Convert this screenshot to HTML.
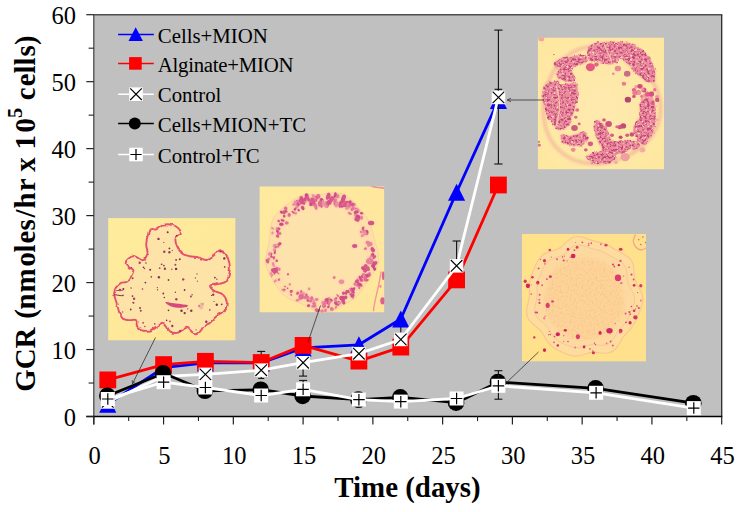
<!DOCTYPE html>
<html><head><meta charset="utf-8"><title>GCR chart</title>
<style>
html,body{margin:0;padding:0;background:#fff;width:737px;height:512px;overflow:hidden}
svg text{font-family:"Liberation Serif",serif;fill:#000}
.tk{font-size:24.5px}
.ax{font-size:28.9px;font-weight:bold}
.lg{font-size:20.8px}
</style></head><body>
<svg width="737" height="512" viewBox="0 0 737 512" style="display:block;position:absolute;left:0;top:0">
<defs><filter id="b1" x="-10%" y="-10%" width="120%" height="120%"><feGaussianBlur stdDeviation="0.55"/></filter>
<filter id="b2" x="-10%" y="-10%" width="120%" height="120%"><feGaussianBlur stdDeviation="1.2"/></filter>
<filter id="b3" x="-10%" y="-10%" width="120%" height="120%"><feGaussianBlur stdDeviation="2.5"/></filter>
<filter id="b0" x="-10%" y="-10%" width="120%" height="120%"><feGaussianBlur stdDeviation="0.35"/></filter>
<clipPath id="cTR"><rect x="0" y="0" width="126.2" height="131.9"/></clipPath>
<radialGradient id="gTR" cx="0.5" cy="0.52" r="0.62"><stop offset="0" stop-color="#ffe9ae"/><stop offset="0.5" stop-color="#fee8a8"/><stop offset="1" stop-color="#fee8a0"/></radialGradient>
<filter id="rough" x="-5%" y="-5%" width="110%" height="110%" color-interpolation-filters="sRGB"><feTurbulence type="fractalNoise" baseFrequency="0.18" numOctaves="2" seed="3" result="n"/><feDisplacementMap in="SourceGraphic" in2="n" scale="5" xChannelSelector="R" yChannelSelector="G"/><feGaussianBlur stdDeviation="0.5" result="shape"/><feTurbulence type="fractalNoise" baseFrequency="0.42" numOctaves="2" seed="11" result="t"/><feColorMatrix in="t" type="matrix" values="0 0 0 0 0.75  0 0 0 0 0.27  0 0 0 0 0.47  5 0 0 0 -2.35" result="d"/><feComposite in="d" in2="shape" operator="in" result="dd"/><feColorMatrix in="t" type="matrix" values="0 0 0 0 0.99  0 0 0 0 0.82  0 0 0 0 0.72  0 -6 0 0 2.35" result="l"/><feComposite in="l" in2="shape" operator="in" result="ll"/><feMerge><feMergeNode in="shape"/><feMergeNode in="dd"/><feMergeNode in="ll"/></feMerge><feGaussianBlur stdDeviation="0.3"/></filter>
<filter id="bump" x="-5%" y="-5%" width="110%" height="110%"><feTurbulence type="fractalNoise" baseFrequency="0.13" numOctaves="2" seed="8" result="n"/><feDisplacementMap in="SourceGraphic" in2="n" scale="3.2" xChannelSelector="R" yChannelSelector="G"/><feGaussianBlur stdDeviation="0.4"/></filter>
<clipPath id="cBL"><rect x="0" y="0" width="127.5" height="122.5"/></clipPath>
<linearGradient id="gBL" x1="0" y1="0" x2="1" y2="1"><stop offset="0" stop-color="#feec9c"/><stop offset="1" stop-color="#ffe496"/></linearGradient>
<clipPath id="cMD"><rect x="0" y="0" width="125.0" height="126.2"/></clipPath>
<linearGradient id="gMD" x1="0" y1="0" x2="1" y2="1"><stop offset="0" stop-color="#feea9e"/><stop offset="1" stop-color="#ffe69c"/></linearGradient>
<clipPath id="cBR"><rect x="0" y="0" width="124.1" height="127.7"/></clipPath>
<linearGradient id="gBR" x1="0" y1="0" x2="1" y2="1"><stop offset="0" stop-color="#ffe28a"/><stop offset="1" stop-color="#ffe08c"/></linearGradient>
<filter id="grain" x="0" y="0" width="100%" height="100%" color-interpolation-filters="sRGB"><feGaussianBlur stdDeviation="1.5" result="shape"/><feTurbulence type="fractalNoise" baseFrequency="0.5" numOctaves="2" seed="4" result="t"/><feColorMatrix in="t" type="matrix" values="0 0 0 0 0.97  0 0 0 0 0.74  0 0 0 0 0.55  2.0 0 0 0 -0.9" result="d"/><feComposite in="d" in2="shape" operator="in" result="dd"/><feMerge><feMergeNode in="shape"/><feMergeNode in="dd"/></feMerge></filter></defs>
<rect x="0" y="0" width="737" height="512" fill="#fff"/>
<rect x="93.8" y="14.7" width="627.9000000000001" height="401.8" fill="#c0c0c0"/>
<line x1="93.39999999999999" y1="14.7" x2="722.3000000000001" y2="14.7" stroke="#4d4d4d" stroke-width="1.4"/>
<line x1="721.7" y1="14.7" x2="721.7" y2="416.5" stroke="#2a2a2a" stroke-width="1.3"/>
<line x1="93.8" y1="14.7" x2="93.8" y2="424.5" stroke="#555" stroke-width="1.4"/>
<line x1="86.3" y1="416.5" x2="722.3000000000001" y2="416.5" stroke="#000" stroke-width="1.3"/>
<line x1="86.3" y1="416.50" x2="93.8" y2="416.50" stroke="#222" stroke-width="1.2"/>
<text x="76" y="426.20" text-anchor="end" class="tk">0</text>
<line x1="88.6" y1="383.02" x2="93.8" y2="383.02" stroke="#222" stroke-width="1.1"/>
<line x1="86.3" y1="349.53" x2="93.8" y2="349.53" stroke="#222" stroke-width="1.2"/>
<text x="76" y="359.23" text-anchor="end" class="tk">10</text>
<line x1="88.6" y1="316.05" x2="93.8" y2="316.05" stroke="#222" stroke-width="1.1"/>
<line x1="86.3" y1="282.57" x2="93.8" y2="282.57" stroke="#222" stroke-width="1.2"/>
<text x="76" y="292.27" text-anchor="end" class="tk">20</text>
<line x1="88.6" y1="249.08" x2="93.8" y2="249.08" stroke="#222" stroke-width="1.1"/>
<line x1="86.3" y1="215.60" x2="93.8" y2="215.60" stroke="#222" stroke-width="1.2"/>
<text x="76" y="225.30" text-anchor="end" class="tk">30</text>
<line x1="88.6" y1="182.12" x2="93.8" y2="182.12" stroke="#222" stroke-width="1.1"/>
<line x1="86.3" y1="148.63" x2="93.8" y2="148.63" stroke="#222" stroke-width="1.2"/>
<text x="76" y="158.33" text-anchor="end" class="tk">40</text>
<line x1="88.6" y1="115.15" x2="93.8" y2="115.15" stroke="#222" stroke-width="1.1"/>
<line x1="86.3" y1="81.67" x2="93.8" y2="81.67" stroke="#222" stroke-width="1.2"/>
<text x="76" y="91.37" text-anchor="end" class="tk">50</text>
<line x1="88.6" y1="48.18" x2="93.8" y2="48.18" stroke="#222" stroke-width="1.1"/>
<line x1="86.3" y1="14.70" x2="93.8" y2="14.70" stroke="#222" stroke-width="1.2"/>
<text x="76" y="24.40" text-anchor="end" class="tk">60</text>
<line x1="93.80" y1="416.5" x2="93.80" y2="424.5" stroke="#222" stroke-width="1.2"/>
<text x="94.60" y="464.3" text-anchor="middle" class="tk">0</text>
<line x1="128.68" y1="416.5" x2="128.68" y2="421.1" stroke="#222" stroke-width="1.1"/>
<line x1="163.57" y1="416.5" x2="163.57" y2="424.5" stroke="#222" stroke-width="1.2"/>
<text x="164.37" y="464.3" text-anchor="middle" class="tk">5</text>
<line x1="198.45" y1="416.5" x2="198.45" y2="421.1" stroke="#222" stroke-width="1.1"/>
<line x1="233.33" y1="416.5" x2="233.33" y2="424.5" stroke="#222" stroke-width="1.2"/>
<text x="234.13" y="464.3" text-anchor="middle" class="tk">10</text>
<line x1="268.22" y1="416.5" x2="268.22" y2="421.1" stroke="#222" stroke-width="1.1"/>
<line x1="303.10" y1="416.5" x2="303.10" y2="424.5" stroke="#222" stroke-width="1.2"/>
<text x="303.90" y="464.3" text-anchor="middle" class="tk">15</text>
<line x1="337.98" y1="416.5" x2="337.98" y2="421.1" stroke="#222" stroke-width="1.1"/>
<line x1="372.87" y1="416.5" x2="372.87" y2="424.5" stroke="#222" stroke-width="1.2"/>
<text x="373.67" y="464.3" text-anchor="middle" class="tk">20</text>
<line x1="407.75" y1="416.5" x2="407.75" y2="421.1" stroke="#222" stroke-width="1.1"/>
<line x1="442.63" y1="416.5" x2="442.63" y2="424.5" stroke="#222" stroke-width="1.2"/>
<text x="443.43" y="464.3" text-anchor="middle" class="tk">25</text>
<line x1="477.52" y1="416.5" x2="477.52" y2="421.1" stroke="#222" stroke-width="1.1"/>
<line x1="512.40" y1="416.5" x2="512.40" y2="424.5" stroke="#222" stroke-width="1.2"/>
<text x="513.20" y="464.3" text-anchor="middle" class="tk">30</text>
<line x1="547.28" y1="416.5" x2="547.28" y2="421.1" stroke="#222" stroke-width="1.1"/>
<line x1="582.17" y1="416.5" x2="582.17" y2="424.5" stroke="#222" stroke-width="1.2"/>
<text x="582.97" y="464.3" text-anchor="middle" class="tk">35</text>
<line x1="617.05" y1="416.5" x2="617.05" y2="421.1" stroke="#222" stroke-width="1.1"/>
<line x1="651.93" y1="416.5" x2="651.93" y2="424.5" stroke="#222" stroke-width="1.2"/>
<text x="652.73" y="464.3" text-anchor="middle" class="tk">40</text>
<line x1="686.82" y1="416.5" x2="686.82" y2="421.1" stroke="#222" stroke-width="1.1"/>
<line x1="721.70" y1="416.5" x2="721.70" y2="424.5" stroke="#222" stroke-width="1.2"/>
<text x="722.50" y="464.3" text-anchor="middle" class="tk">45</text>
<text x="407.5" y="497" text-anchor="middle" class="ax">Time (days)</text>
<text transform="translate(35.4,391.8) rotate(-90) scale(1,1.04)" class="ax" style="word-spacing:4.1px"><tspan dx="0 0 0 0 -2.4 -0.4 0.8 2 -0.5 0.9 0.3 1.8 0.8 1.2 0 -4 0 -3.5 2.5">GCR (nmoles/hr x 10</tspan><tspan dy="-13.2" font-size="20.5">5</tspan><tspan dy="13.2" dx="0 -3.7 1.0 0 0 1 0.3"> cells)</tspan></text>
<g transform="translate(537.8,37.5)" clip-path="url(#cTR)">
<rect width="126.2" height="131.9" fill="url(#gTR)"/>
<path d="M122.7 68.5C122.8 71.6 122.7 74.9 122.2 78.0C121.8 81.1 121.0 84.2 119.9 87.2C118.8 90.1 117.4 93.0 115.8 95.7C114.2 98.3 112.3 100.9 110.2 103.2C108.2 105.5 105.9 107.6 103.6 109.6C101.2 111.5 98.7 113.2 96.1 114.8C93.6 116.4 90.9 117.8 88.2 119.0C85.5 120.2 82.8 121.3 80.0 122.2C77.2 123.2 74.3 124.0 71.4 124.6C68.5 125.2 65.5 125.7 62.5 125.9C59.5 126.2 56.4 126.3 53.4 126.1C50.3 125.9 47.2 125.5 44.2 124.8C41.2 124.1 38.1 123.2 35.3 122.0C32.4 120.7 29.6 119.2 27.0 117.4C24.4 115.6 21.9 113.5 19.8 111.2C17.6 109.0 15.6 106.4 13.9 103.8C12.2 101.2 10.8 98.3 9.7 95.4C8.5 92.5 7.6 89.5 7.0 86.5C6.3 83.6 5.9 80.5 5.7 77.5C5.5 74.5 5.5 71.5 5.7 68.5C5.8 65.5 6.2 62.6 6.7 59.7C7.2 56.7 7.8 53.9 8.6 51.0C9.4 48.1 10.4 45.3 11.6 42.5C12.7 39.8 14.0 37.0 15.6 34.4C17.1 31.8 18.9 29.2 20.8 26.8C22.8 24.5 25.0 22.2 27.4 20.1C29.7 18.1 32.4 16.3 35.1 14.7C37.8 13.2 40.8 11.9 43.8 11.0C46.8 10.0 50.0 9.4 53.1 9.0C56.2 8.7 59.4 8.7 62.5 8.9C65.6 9.2 68.7 9.8 71.7 10.5C74.7 11.3 77.6 12.4 80.4 13.6C83.1 14.8 85.8 16.2 88.4 17.7C90.9 19.2 93.4 20.9 95.7 22.7C98.1 24.5 100.3 26.5 102.5 28.5C104.6 30.6 106.7 32.7 108.6 35.0C110.5 37.3 112.3 39.7 113.9 42.3C115.5 44.9 117.0 47.6 118.2 50.4C119.5 53.2 120.5 56.2 121.3 59.2C122.0 62.2 122.5 65.4 122.7 68.5Z" fill="none" stroke="#f0a59c" stroke-width="4" opacity="0.5" filter="url(#b2)"/>
<g filter="url(#b2)" opacity="0.55"><path d="M16.1 24.4C16.6 23.3 17.3 22.4 19.4 21.7C21.6 21.1 25.6 21.0 28.7 20.4C31.8 19.9 34.9 18.9 38.0 18.4C41.1 18.0 45.5 16.9 47.3 17.8C49.2 18.6 50.0 22.2 49.3 23.7C48.7 25.3 45.5 26.2 43.4 27.1C41.3 27.9 38.3 28.2 36.7 29.0C35.2 29.9 34.2 30.8 34.1 32.4C33.9 33.9 35.6 36.6 36.0 38.3C36.5 40.1 37.7 42.0 36.7 43.0C35.7 44.0 32.4 44.4 30.1 44.3C27.7 44.2 24.8 43.3 22.8 42.3C20.8 41.3 18.6 40.0 18.1 38.3C17.7 36.7 20.3 34.0 20.1 32.4C19.9 30.7 17.5 29.7 16.8 28.4C16.1 27.1 15.7 25.5 16.1 24.4Z" fill="#f4a6a0"/><path d="M16.8 43.0C17.5 42.4 19.3 41.9 20.1 42.3C20.9 42.8 21.8 44.8 21.4 45.6C21.1 46.5 19.0 47.4 18.1 47.4C17.2 47.4 16.3 46.4 16.1 45.6C15.9 44.9 16.1 43.5 16.8 43.0Z" fill="#f4a6a0"/><path d="M6.4 47.0C7.6 44.9 9.8 44.6 11.5 44.3C13.2 44.0 14.7 44.4 16.8 45.0C18.9 45.6 21.7 47.7 24.1 47.9C26.5 48.1 29.1 46.5 31.4 46.0C33.7 45.6 36.6 43.6 38.0 45.0C39.5 46.4 39.9 51.4 40.0 54.3C40.2 57.2 39.6 59.5 39.1 62.2C38.6 65.0 37.8 67.9 37.0 70.9C36.2 73.9 35.5 77.1 34.3 80.2C33.1 83.3 31.6 87.4 29.8 89.5C28.0 91.5 25.4 92.3 23.4 92.5C21.5 92.7 19.7 92.1 18.1 90.8C16.5 89.5 15.3 86.8 13.9 84.8C12.4 82.8 10.8 81.7 9.5 78.8C8.2 76.0 6.7 71.2 5.9 67.6C5.1 63.9 4.5 60.4 4.6 56.9C4.7 53.5 5.3 49.1 6.4 47.0Z" fill="#f4a6a0"/><path d="M49.3 13.1C49.8 10.7 52.1 9.1 54.0 7.8C55.9 6.5 58.6 5.7 60.6 5.1C62.7 4.6 63.3 4.6 66.2 4.5C69.1 4.4 75.7 2.8 78.1 4.5C80.6 6.1 80.6 11.2 80.8 14.4C81.0 17.6 81.0 21.6 79.5 23.7C77.9 25.8 74.0 26.8 71.5 27.1C69.0 27.3 66.9 25.5 64.6 25.1C62.3 24.6 60.2 24.8 58.0 24.4C55.7 24.0 52.8 24.3 51.3 22.4C49.9 20.5 48.9 15.5 49.3 13.1Z" fill="#f4a6a0"/><path d="M75.5 7.8C76.9 6.6 81.2 4.5 84.8 4.5C88.3 4.5 93.0 5.9 96.7 7.8C100.5 9.7 104.3 12.4 107.4 15.8C110.5 19.1 113.6 24.0 115.3 27.7C117.1 31.5 117.6 35.7 118.0 38.3C118.3 41.0 118.9 42.7 117.3 43.7C115.8 44.6 111.7 45.4 108.7 44.3C105.7 43.2 102.7 40.0 99.4 37.0C96.1 34.0 91.9 29.5 88.8 26.4C85.7 23.3 82.9 20.9 80.8 18.4C78.7 16.0 77.0 13.6 76.1 11.8C75.3 10.0 74.0 9.0 75.5 7.8Z" fill="#f4a6a0"/><path d="M23.4 97.0C24.8 95.9 29.6 98.8 32.7 98.4C35.8 97.9 39.3 94.6 42.0 94.4C44.8 94.2 48.0 95.5 49.3 97.0C50.7 98.6 51.0 101.9 50.0 103.7C49.0 105.5 46.2 107.0 43.4 107.7C40.5 108.3 35.8 108.1 32.7 107.7C29.6 107.2 26.3 106.8 24.8 105.0C23.2 103.2 22.1 98.2 23.4 97.0Z" fill="#f4a6a0"/><path d="M57.3 83.8C58.1 81.7 60.5 82.4 61.9 83.1C63.4 83.8 64.8 86.1 66.2 87.7C67.6 89.4 68.9 90.4 70.2 93.1C71.5 95.7 71.9 101.9 74.2 103.7C76.4 105.5 80.8 103.9 83.5 103.7C86.1 103.5 87.4 102.4 90.1 102.4C92.8 102.4 97.5 102.6 99.4 103.7C101.3 104.8 101.8 107.4 101.4 109.0C100.9 110.5 98.6 112.5 96.7 113.0C94.9 113.4 91.9 111.2 90.1 111.7C88.3 112.1 87.9 114.8 86.1 115.6C84.3 116.5 81.0 115.9 79.5 117.0C77.9 118.1 78.1 120.9 76.8 122.3C75.5 123.6 73.3 124.7 71.5 124.9C69.7 125.2 67.6 126.0 66.2 123.6C64.8 121.2 64.3 113.6 63.3 110.3C62.2 107.0 60.9 106.1 60.0 103.7C59.0 101.2 57.7 99.0 57.3 95.7C56.9 92.4 56.5 85.9 57.3 83.8Z" fill="#f4a6a0"/><path d="M48.7 119.6C49.3 118.3 52.4 116.5 55.3 115.6C58.2 114.8 63.3 114.2 66.2 114.3C69.1 114.4 71.4 115.0 72.6 116.3C73.7 117.6 74.3 120.6 73.2 122.3C72.2 123.9 69.0 125.6 66.2 126.3C63.4 126.9 59.1 126.7 56.6 126.3C54.2 125.8 52.6 124.7 51.3 123.6C50.0 122.5 48.0 120.9 48.7 119.6Z" fill="#f4a6a0"/><path d="M102.0 66.5C102.9 63.6 105.1 61.9 107.4 61.2C109.6 60.5 113.6 60.3 115.3 62.5C117.1 64.7 117.6 70.5 118.0 74.5C118.3 78.5 118.2 82.2 117.3 86.4C116.4 90.6 114.5 96.4 112.7 99.7C110.8 103.0 108.0 105.7 106.0 106.3C104.0 107.0 102.3 105.5 100.7 103.7C99.2 101.9 97.3 98.6 96.7 95.7C96.2 92.8 96.5 89.3 97.4 86.4C98.3 83.5 101.3 81.8 102.0 78.5C102.8 75.1 101.2 69.4 102.0 66.5Z" fill="#f4a6a0"/></g>
<g filter="url(#rough)"><path d="M16.1 24.4C16.6 23.3 17.3 22.4 19.4 21.7C21.6 21.1 25.6 21.0 28.7 20.4C31.8 19.9 34.9 18.9 38.0 18.4C41.1 18.0 45.5 16.9 47.3 17.8C49.2 18.6 50.0 22.2 49.3 23.7C48.7 25.3 45.5 26.2 43.4 27.1C41.3 27.9 38.3 28.2 36.7 29.0C35.2 29.9 34.2 30.8 34.1 32.4C33.9 33.9 35.6 36.6 36.0 38.3C36.5 40.1 37.7 42.0 36.7 43.0C35.7 44.0 32.4 44.4 30.1 44.3C27.7 44.2 24.8 43.3 22.8 42.3C20.8 41.3 18.6 40.0 18.1 38.3C17.7 36.7 20.3 34.0 20.1 32.4C19.9 30.7 17.5 29.7 16.8 28.4C16.1 27.1 15.7 25.5 16.1 24.4Z" fill="#ec8e9e"/><path d="M16.8 43.0C17.5 42.4 19.3 41.9 20.1 42.3C20.9 42.8 21.8 44.8 21.4 45.6C21.1 46.5 19.0 47.4 18.1 47.4C17.2 47.4 16.3 46.4 16.1 45.6C15.9 44.9 16.1 43.5 16.8 43.0Z" fill="#ec8e9e"/><path d="M6.4 47.0C7.6 44.9 9.8 44.6 11.5 44.3C13.2 44.0 14.7 44.4 16.8 45.0C18.9 45.6 21.7 47.7 24.1 47.9C26.5 48.1 29.1 46.5 31.4 46.0C33.7 45.6 36.6 43.6 38.0 45.0C39.5 46.4 39.9 51.4 40.0 54.3C40.2 57.2 39.6 59.5 39.1 62.2C38.6 65.0 37.8 67.9 37.0 70.9C36.2 73.9 35.5 77.1 34.3 80.2C33.1 83.3 31.6 87.4 29.8 89.5C28.0 91.5 25.4 92.3 23.4 92.5C21.5 92.7 19.7 92.1 18.1 90.8C16.5 89.5 15.3 86.8 13.9 84.8C12.4 82.8 10.8 81.7 9.5 78.8C8.2 76.0 6.7 71.2 5.9 67.6C5.1 63.9 4.5 60.4 4.6 56.9C4.7 53.5 5.3 49.1 6.4 47.0Z" fill="#ec8e9e"/><path d="M49.3 13.1C49.8 10.7 52.1 9.1 54.0 7.8C55.9 6.5 58.6 5.7 60.6 5.1C62.7 4.6 63.3 4.6 66.2 4.5C69.1 4.4 75.7 2.8 78.1 4.5C80.6 6.1 80.6 11.2 80.8 14.4C81.0 17.6 81.0 21.6 79.5 23.7C77.9 25.8 74.0 26.8 71.5 27.1C69.0 27.3 66.9 25.5 64.6 25.1C62.3 24.6 60.2 24.8 58.0 24.4C55.7 24.0 52.8 24.3 51.3 22.4C49.9 20.5 48.9 15.5 49.3 13.1Z" fill="#ec8e9e"/><path d="M75.5 7.8C76.9 6.6 81.2 4.5 84.8 4.5C88.3 4.5 93.0 5.9 96.7 7.8C100.5 9.7 104.3 12.4 107.4 15.8C110.5 19.1 113.6 24.0 115.3 27.7C117.1 31.5 117.6 35.7 118.0 38.3C118.3 41.0 118.9 42.7 117.3 43.7C115.8 44.6 111.7 45.4 108.7 44.3C105.7 43.2 102.7 40.0 99.4 37.0C96.1 34.0 91.9 29.5 88.8 26.4C85.7 23.3 82.9 20.9 80.8 18.4C78.7 16.0 77.0 13.6 76.1 11.8C75.3 10.0 74.0 9.0 75.5 7.8Z" fill="#ec8e9e"/><path d="M23.4 97.0C24.8 95.9 29.6 98.8 32.7 98.4C35.8 97.9 39.3 94.6 42.0 94.4C44.8 94.2 48.0 95.5 49.3 97.0C50.7 98.6 51.0 101.9 50.0 103.7C49.0 105.5 46.2 107.0 43.4 107.7C40.5 108.3 35.8 108.1 32.7 107.7C29.6 107.2 26.3 106.8 24.8 105.0C23.2 103.2 22.1 98.2 23.4 97.0Z" fill="#ec8e9e"/><path d="M57.3 83.8C58.1 81.7 60.5 82.4 61.9 83.1C63.4 83.8 64.8 86.1 66.2 87.7C67.6 89.4 68.9 90.4 70.2 93.1C71.5 95.7 71.9 101.9 74.2 103.7C76.4 105.5 80.8 103.9 83.5 103.7C86.1 103.5 87.4 102.4 90.1 102.4C92.8 102.4 97.5 102.6 99.4 103.7C101.3 104.8 101.8 107.4 101.4 109.0C100.9 110.5 98.6 112.5 96.7 113.0C94.9 113.4 91.9 111.2 90.1 111.7C88.3 112.1 87.9 114.8 86.1 115.6C84.3 116.5 81.0 115.9 79.5 117.0C77.9 118.1 78.1 120.9 76.8 122.3C75.5 123.6 73.3 124.7 71.5 124.9C69.7 125.2 67.6 126.0 66.2 123.6C64.8 121.2 64.3 113.6 63.3 110.3C62.2 107.0 60.9 106.1 60.0 103.7C59.0 101.2 57.7 99.0 57.3 95.7C56.9 92.4 56.5 85.9 57.3 83.8Z" fill="#ec8e9e"/><path d="M48.7 119.6C49.3 118.3 52.4 116.5 55.3 115.6C58.2 114.8 63.3 114.2 66.2 114.3C69.1 114.4 71.4 115.0 72.6 116.3C73.7 117.6 74.3 120.6 73.2 122.3C72.2 123.9 69.0 125.6 66.2 126.3C63.4 126.9 59.1 126.7 56.6 126.3C54.2 125.8 52.6 124.7 51.3 123.6C50.0 122.5 48.0 120.9 48.7 119.6Z" fill="#ec8e9e"/><path d="M102.0 66.5C102.9 63.6 105.1 61.9 107.4 61.2C109.6 60.5 113.6 60.3 115.3 62.5C117.1 64.7 117.6 70.5 118.0 74.5C118.3 78.5 118.2 82.2 117.3 86.4C116.4 90.6 114.5 96.4 112.7 99.7C110.8 103.0 108.0 105.7 106.0 106.3C104.0 107.0 102.3 105.5 100.7 103.7C99.2 101.9 97.3 98.6 96.7 95.7C96.2 92.8 96.5 89.3 97.4 86.4C98.3 83.5 101.3 81.8 102.0 78.5C102.8 75.1 101.2 69.4 102.0 66.5Z" fill="#ec8e9e"/></g>
<path d="M18.1 47.9C18.5 49.4 19.9 53.7 20.5 56.9C21.1 60.2 21.8 64.0 21.8 67.6C21.9 71.1 21.4 74.6 20.8 78.2C20.2 81.7 18.6 87.0 18.1 88.8" fill="none" stroke="#f9d2ae" stroke-width="1.3" opacity="0.85" filter="url(#b0)"/>
<path d="M66.2 5.8C66.7 7.0 68.2 10.7 69.2 13.1C70.3 15.5 71.7 18.1 72.6 20.4C73.5 22.7 74.2 25.9 74.6 27.1" fill="none" stroke="#f9d2ae" stroke-width="1.2" opacity="0.8" filter="url(#b0)"/>
<g filter="url(#b1)"><circle cx="102.7" cy="48.8" r="2.35" fill="#e8648a" opacity="0.95"/><circle cx="96.4" cy="55.5" r="1.81" fill="#c8457c" opacity="0.83"/><circle cx="119.2" cy="59.5" r="2.02" fill="#ee7e98" opacity="0.71"/><circle cx="116.9" cy="52.3" r="1.69" fill="#e8648a" opacity="0.87"/><circle cx="109.0" cy="62.2" r="1.63" fill="#c8457c" opacity="0.89"/><circle cx="104.0" cy="58.8" r="1.58" fill="#e8648a" opacity="0.89"/><circle cx="107.3" cy="58.4" r="2.51" fill="#f293a3" opacity="0.88"/><circle cx="106.1" cy="52.5" r="2.53" fill="#d04a80" opacity="0.93"/><circle cx="96.2" cy="52.6" r="2.14" fill="#e25583" opacity="0.92"/><circle cx="97.2" cy="55.5" r="2.48" fill="#ee7e98" opacity="0.98"/><circle cx="115.0" cy="65.6" r="1.94" fill="#e25583" opacity="0.88"/><circle cx="109.5" cy="56.5" r="2.59" fill="#e25583" opacity="0.84"/><circle cx="112.7" cy="61.3" r="2.79" fill="#f293a3" opacity="0.79"/><circle cx="104.3" cy="61.9" r="1.53" fill="#f293a3" opacity="0.81"/><circle cx="110.3" cy="57.4" r="1.78" fill="#e25583" opacity="0.74"/><circle cx="100.6" cy="54.8" r="2.63" fill="#e8648a" opacity="0.75"/><circle cx="104.7" cy="52.0" r="1.68" fill="#f293a3" opacity="0.96"/><circle cx="101.5" cy="55.5" r="1.97" fill="#f293a3" opacity="0.99"/><circle cx="98.1" cy="49.4" r="1.80" fill="#ee7e98" opacity="0.70"/><circle cx="101.6" cy="48.7" r="2.19" fill="#c8457c" opacity="0.87"/><circle cx="119.4" cy="62.4" r="2.17" fill="#c8457c" opacity="0.90"/><circle cx="113.7" cy="56.5" r="2.63" fill="#d04a80" opacity="0.94"/></g>
<g filter="url(#b1)"><ellipse cx="52.6" cy="29.7" rx="4.52" ry="4.06" fill="#e95982"/><ellipse cx="58.6" cy="27.1" rx="2.39" ry="2.15" fill="#e66686"/><ellipse cx="80.1" cy="31.0" rx="3.19" ry="2.87" fill="#e78b96"/><ellipse cx="89.4" cy="36.3" rx="3.32" ry="2.99" fill="#ca6c88"/><ellipse cx="86.1" cy="46.3" rx="2.26" ry="2.03" fill="#ea7c8d"/><ellipse cx="75.5" cy="36.3" rx="1.33" ry="1.20" fill="#ea8c96"/><ellipse cx="90.1" cy="62.2" rx="3.19" ry="2.87" fill="#b24672"/><ellipse cx="96.1" cy="58.9" rx="1.86" ry="1.67" fill="#da567e"/><ellipse cx="36.7" cy="90.4" rx="3.32" ry="2.99" fill="#cc5c7d"/><ellipse cx="41.4" cy="86.4" rx="1.46" ry="1.31" fill="#da6c86"/><ellipse cx="38.0" cy="79.8" rx="1.59" ry="1.43" fill="#da6c86"/><ellipse cx="39.4" cy="72.5" rx="1.99" ry="1.79" fill="#e2718a"/><ellipse cx="52.6" cy="106.3" rx="2.66" ry="2.39" fill="#d26183"/><ellipse cx="48.0" cy="112.3" rx="1.86" ry="1.67" fill="#d26183"/><ellipse cx="35.4" cy="112.3" rx="2.39" ry="2.15" fill="#ea8b96"/><ellipse cx="1.5" cy="107.7" rx="1.59" ry="1.43" fill="#df768e"/><ellipse cx="1.1" cy="104.3" rx="1.20" ry="1.08" fill="#df768e"/><ellipse cx="70.8" cy="86.4" rx="3.32" ry="2.99" fill="#cc537b"/><ellipse cx="85.4" cy="88.4" rx="2.92" ry="2.63" fill="#c24c77"/><ellipse cx="82.1" cy="89.7" rx="2.39" ry="2.15" fill="#cc537b"/><ellipse cx="79.2" cy="89.3" rx="1.73" ry="1.55" fill="#da6c86"/><ellipse cx="74.2" cy="97.7" rx="1.99" ry="1.79" fill="#d26183"/><ellipse cx="82.8" cy="99.7" rx="1.99" ry="1.79" fill="#c24c77"/><ellipse cx="89.4" cy="97.7" rx="1.99" ry="1.79" fill="#d26183"/><ellipse cx="94.1" cy="97.0" rx="2.39" ry="2.15" fill="#cc537b"/><ellipse cx="66.2" cy="82.4" rx="1.86" ry="1.67" fill="#d26183"/><ellipse cx="63.5" cy="89.1" rx="2.12" ry="1.91" fill="#cc537b"/><ellipse cx="104.7" cy="112.3" rx="2.92" ry="2.63" fill="#f8aba3"/><ellipse cx="119.3" cy="82.4" rx="1.46" ry="1.31" fill="#faaca6"/><ellipse cx="116.0" cy="95.1" rx="1.33" ry="1.20" fill="#f8aba3"/><ellipse cx="87.4" cy="119.6" rx="4.65" ry="4.18" fill="#efa1a1"/><ellipse cx="78.1" cy="124.9" rx="1.86" ry="1.67" fill="#f2aca6"/><ellipse cx="16.1" cy="17.1" rx="0.80" ry="0.72" fill="#94764e"/><ellipse cx="3.5" cy="1.2" rx="2.92" ry="2.63" fill="#f8a49e"/></g>
</g>
<g transform="translate(108.1,218.1)" clip-path="url(#cBL)">
<rect width="127.5" height="122.5" fill="url(#gBL)"/>
<path d="M39.4 18.9C40.0 16.4 40.4 12.5 41.9 11.2C43.4 10.0 46.0 12.0 48.3 11.2C50.7 10.5 53.4 7.4 56.0 6.6C58.6 5.9 61.3 6.1 63.7 6.6C66.0 7.2 68.6 8.6 70.1 10.0C71.6 11.4 73.1 13.4 72.6 15.1C72.2 16.8 68.2 18.1 67.5 20.2C66.9 22.3 67.7 25.3 68.8 27.9C69.9 30.4 71.8 33.8 73.9 35.5C76.0 37.2 78.8 37.5 81.6 38.1C84.3 38.7 87.8 38.7 90.5 39.4C93.3 40.0 95.9 42.1 98.2 41.9C100.5 41.7 102.3 39.6 104.6 38.1C106.9 36.6 110.1 33.4 112.3 33.0C114.4 32.6 115.9 33.6 117.4 35.5C118.9 37.5 120.6 41.3 121.2 44.5C121.9 47.7 121.9 51.5 121.2 54.7C120.6 57.9 119.5 61.8 117.4 63.7C115.3 65.6 111.0 65.6 108.4 66.2C105.9 66.9 102.5 66.4 102.0 67.5C101.6 68.6 103.7 71.1 105.9 72.6C108.0 74.1 112.7 74.5 114.8 76.5C117.0 78.4 118.4 81.4 118.7 84.1C118.9 86.9 117.8 90.7 116.1 93.1C114.4 95.4 110.8 96.3 108.4 98.2C106.1 100.1 104.2 102.9 102.0 104.6C99.9 106.3 97.3 106.9 95.6 108.4C93.9 109.9 93.5 112.5 91.8 113.5C90.1 114.6 87.5 115.5 85.4 114.8C83.3 114.2 80.9 110.1 79.0 109.7C77.1 109.3 75.6 111.4 73.9 112.3C72.2 113.1 70.7 114.6 68.8 114.8C66.9 115.0 64.1 114.6 62.4 113.5C60.7 112.5 59.8 109.9 58.6 108.4C57.3 106.9 56.4 104.6 54.7 104.6C53.0 104.6 50.5 107.2 48.3 108.4C46.2 109.7 44.3 111.6 41.9 112.3C39.6 112.9 36.4 112.9 34.3 112.3C32.1 111.6 30.2 110.1 29.1 108.4C28.1 106.7 29.1 103.1 27.9 102.0C26.6 101.0 23.6 102.3 21.5 102.0C19.3 101.8 16.8 102.0 15.1 100.8C13.4 99.5 12.3 96.9 11.2 94.4C10.2 91.8 9.5 88.4 8.7 85.4C7.8 82.4 6.3 79.0 6.1 76.5C5.9 73.9 6.3 72.0 7.4 70.1C8.5 68.2 10.6 66.0 12.5 65.0C14.4 63.9 17.2 64.7 18.9 63.7C20.6 62.6 21.7 60.5 22.8 58.6C23.8 56.6 25.5 53.7 25.3 52.2C25.1 50.7 22.8 50.7 21.5 49.6C20.2 48.5 17.9 47.3 17.6 45.8C17.4 44.3 18.7 41.9 20.2 40.7C21.7 39.4 24.5 37.9 26.6 38.1C28.7 38.3 31.3 41.5 33.0 41.9C34.7 42.4 35.8 41.9 36.8 40.7C37.9 39.4 39.2 36.6 39.4 34.3C39.6 31.9 38.1 29.1 38.1 26.6C38.1 24.0 38.7 21.5 39.4 18.9Z" fill="#fee3a8" stroke="#e6506e" stroke-width="1.9" stroke-linejoin="round" filter="url(#bump)"/>
<g filter="url(#b0)"><circle cx="26.0" cy="80.6" r="1.2" fill="#a04068"/><circle cx="61.3" cy="30.3" r="0.9" fill="#7a2d50"/><circle cx="64.2" cy="32.5" r="0.6" fill="#8a3358"/><circle cx="49.2" cy="69.5" r="0.6" fill="#7a2d50"/><circle cx="105.9" cy="72.8" r="0.6" fill="#a04068"/><circle cx="68.2" cy="81.1" r="1.2" fill="#a04068"/><circle cx="10.0" cy="86.1" r="0.6" fill="#8a3358"/><circle cx="25.5" cy="84.7" r="0.9" fill="#93405a"/><circle cx="24.4" cy="78.0" r="0.9" fill="#7a2d50"/><circle cx="83.2" cy="92.6" r="1.2" fill="#8a3358"/><circle cx="53.5" cy="46.2" r="0.9" fill="#93405a"/><circle cx="43.2" cy="58.8" r="0.8" fill="#8a3358"/><circle cx="88.0" cy="111.7" r="0.6" fill="#93405a"/><circle cx="15.3" cy="71.0" r="1.0" fill="#7a2d50"/><circle cx="71.7" cy="41.2" r="1.0" fill="#8a3358"/><circle cx="46.6" cy="105.8" r="0.8" fill="#a04068"/><circle cx="55.7" cy="24.4" r="0.6" fill="#7a2d50"/><circle cx="106.8" cy="59.5" r="0.9" fill="#7a2d50"/><circle cx="112.8" cy="33.5" r="1.0" fill="#8a3358"/><circle cx="56.8" cy="50.7" r="1.2" fill="#93405a"/><circle cx="103.4" cy="77.3" r="0.6" fill="#93405a"/><circle cx="35.4" cy="49.3" r="0.8" fill="#7a2d50"/><circle cx="61.3" cy="34.2" r="1.2" fill="#93405a"/><circle cx="101.7" cy="91.8" r="0.8" fill="#93405a"/><circle cx="61.9" cy="103.2" r="0.9" fill="#a04068"/><circle cx="23.0" cy="69.9" r="0.7" fill="#8a3358"/><circle cx="50.4" cy="20.8" r="1.2" fill="#8a3358"/><circle cx="37.2" cy="42.0" r="0.7" fill="#93405a"/><circle cx="36.4" cy="50.5" r="0.7" fill="#7a2d50"/><circle cx="23.4" cy="49.5" r="0.7" fill="#8a3358"/><circle cx="79.6" cy="90.8" r="0.6" fill="#8a3358"/><circle cx="68.0" cy="41.8" r="0.9" fill="#7a2d50"/><circle cx="91.2" cy="87.8" r="1.0" fill="#8a3358"/><circle cx="59.6" cy="14.1" r="1.0" fill="#7a2d50"/><circle cx="25.0" cy="84.5" r="0.8" fill="#93405a"/><circle cx="75.1" cy="61.3" r="1.2" fill="#a04068"/><circle cx="116.2" cy="40.3" r="1.2" fill="#7a2d50"/><circle cx="14.6" cy="93.9" r="0.7" fill="#a04068"/><circle cx="14.8" cy="77.2" r="0.9" fill="#8a3358"/><circle cx="105.1" cy="76.6" r="1.2" fill="#93405a"/><circle cx="64.2" cy="107.9" r="1.2" fill="#93405a"/><circle cx="60.4" cy="61.9" r="0.9" fill="#8a3358"/><circle cx="56.2" cy="33.6" r="1.2" fill="#93405a"/><circle cx="88.9" cy="55.8" r="0.7" fill="#93405a"/><circle cx="50.8" cy="59.1" r="1.2" fill="#8a3358"/><circle cx="49.4" cy="71.6" r="0.7" fill="#93405a"/><circle cx="77.9" cy="87.9" r="1.2" fill="#a04068"/><circle cx="35.0" cy="104.7" r="0.9" fill="#a04068"/><circle cx="76.6" cy="95.0" r="1.2" fill="#8a3358"/><circle cx="105.9" cy="83.4" r="0.6" fill="#7a2d50"/><circle cx="113.6" cy="86.2" r="0.9" fill="#8a3358"/><circle cx="56.2" cy="79.4" r="0.8" fill="#7a2d50"/><circle cx="36.8" cy="108.4" r="0.8" fill="#a04068"/><circle cx="108.7" cy="61.2" r="0.7" fill="#a04068"/><circle cx="51.6" cy="50.0" r="0.9" fill="#a04068"/><circle cx="82.8" cy="78.3" r="1.0" fill="#a04068"/><circle cx="31.6" cy="44.6" r="1.2" fill="#a04068"/><circle cx="11.8" cy="71.9" r="1.2" fill="#93405a"/><circle cx="68.7" cy="17.4" r="0.8" fill="#7a2d50"/><circle cx="58.5" cy="102.3" r="0.8" fill="#7a2d50"/><circle cx="22.6" cy="91.4" r="0.9" fill="#8a3358"/><circle cx="42.1" cy="51.7" r="1.0" fill="#7a2d50"/><circle cx="32.7" cy="92.6" r="1.0" fill="#93405a"/><circle cx="108.7" cy="86.7" r="1.2" fill="#7a2d50"/><circle cx="24.5" cy="60.2" r="1.0" fill="#93405a"/><circle cx="60.4" cy="92.3" r="0.8" fill="#7a2d50"/><circle cx="37.8" cy="44.9" r="0.8" fill="#8a3358"/><circle cx="84.0" cy="76.7" r="0.7" fill="#8a3358"/><circle cx="68.0" cy="50.8" r="1.2" fill="#7a2d50"/><circle cx="89.3" cy="63.1" r="0.6" fill="#a04068"/><circle cx="67.3" cy="74.1" r="0.7" fill="#8a3358"/><circle cx="87.3" cy="59.8" r="0.7" fill="#93405a"/><circle cx="98.2" cy="103.6" r="1.2" fill="#8a3358"/><circle cx="31.9" cy="90.0" r="1.0" fill="#8a3358"/><circle cx="116.6" cy="48.8" r="0.9" fill="#a04068"/><circle cx="76.5" cy="71.9" r="0.9" fill="#7a2d50"/><circle cx="63.7" cy="51.2" r="0.7" fill="#a04068"/><circle cx="94.7" cy="85.9" r="0.8" fill="#8a3358"/><circle cx="34.4" cy="71.0" r="0.8" fill="#a04068"/><circle cx="71.9" cy="112.9" r="0.9" fill="#8a3358"/><circle cx="67.3" cy="46.7" r="1.0" fill="#a04068"/><circle cx="55.2" cy="75.4" r="0.9" fill="#7a2d50"/><circle cx="55.8" cy="47.5" r="0.9" fill="#93405a"/><circle cx="37.3" cy="64.5" r="0.9" fill="#7a2d50"/><circle cx="73.4" cy="92.6" r="1.2" fill="#7a2d50"/></g>
<path d="M57.3 84.1C57.7 83.7 61.1 84.6 63.7 84.9C66.2 85.2 69.9 85.5 72.6 85.9C75.4 86.4 79.9 86.9 80.3 87.5C80.7 88.1 77.3 89.2 75.2 89.5C73.1 89.8 69.9 89.8 67.5 89.5C65.2 89.2 62.8 88.4 61.1 87.5C59.4 86.6 56.9 84.6 57.3 84.1Z" fill="#d8487a" filter="url(#b0)"/>
<ellipse cx="93.1" cy="88.0" rx="2.2" ry="3.5" fill="#f0a8a0" opacity="0.7" filter="url(#b1)"/>
<line x1="7.4" y1="72.6" x2="15.1" y2="72.1" stroke="#c04070" stroke-width="1"/>
<line x1="6.1" y1="76.5" x2="13.8" y2="77.7" stroke="#803050" stroke-width="1"/>
</g>
<g transform="translate(259.4,186.3)" clip-path="url(#cMD)">
<rect width="125.0" height="126.2" fill="url(#gMD)"/>
<path d="M118.4 64.8C118.9 67.4 119.5 70.2 119.4 72.9C119.2 75.5 118.6 78.2 117.6 80.7C116.6 83.1 114.9 85.4 113.5 87.5C112.0 89.7 110.3 91.6 108.9 93.7C107.5 95.7 106.2 97.8 104.9 99.9C103.6 102.0 102.4 104.2 100.8 106.2C99.3 108.1 97.6 110.0 95.7 111.6C93.9 113.2 91.7 114.4 89.6 115.6C87.4 116.8 85.2 117.7 83.1 118.8C80.9 120.0 78.8 121.2 76.5 122.3C74.3 123.4 72.0 124.7 69.6 125.3C67.2 126.0 64.6 126.4 62.1 126.2C59.6 126.1 57.1 125.1 54.8 124.2C52.4 123.2 50.3 121.7 48.1 120.5C45.9 119.3 43.9 118.2 41.7 117.2C39.6 116.3 37.3 115.7 35.1 114.8C32.8 113.9 30.4 113.1 28.3 111.8C26.2 110.5 24.2 108.9 22.4 107.1C20.7 105.3 19.3 103.1 17.9 101.0C16.5 98.9 15.2 96.7 13.9 94.5C12.6 92.3 11.2 90.1 10.1 87.8C8.9 85.5 7.7 83.1 7.0 80.6C6.4 78.0 6.1 75.3 6.2 72.7C6.3 70.1 7.0 67.4 7.6 64.8C8.1 62.3 9.0 59.9 9.5 57.4C10.0 55.0 10.3 52.6 10.5 50.1C10.8 47.6 10.7 44.9 11.1 42.3C11.5 39.7 12.0 37.0 12.9 34.6C13.9 32.2 15.4 29.9 17.0 27.9C18.6 25.9 20.6 24.3 22.5 22.6C24.4 20.9 26.3 19.4 28.3 17.8C30.2 16.3 32.1 14.6 34.2 13.2C36.2 11.8 38.4 10.5 40.7 9.6C42.9 8.8 45.4 8.4 47.8 8.1C50.2 7.9 52.7 8.2 55.1 8.1C57.5 8.1 59.7 8.2 62.1 8.0C64.4 7.8 66.8 7.3 69.2 7.0C71.7 6.7 74.3 6.2 76.8 6.3C79.3 6.5 81.9 7.0 84.2 8.0C86.4 9.0 88.5 10.7 90.5 12.4C92.4 14.1 94.0 16.2 95.8 18.0C97.5 19.9 99.1 21.7 100.8 23.5C102.5 25.4 104.3 27.1 105.8 29.1C107.3 31.0 108.8 33.1 109.9 35.4C111.0 37.6 111.8 40.1 112.5 42.6C113.2 45.0 113.5 47.5 114.1 50.0C114.7 52.4 115.4 54.8 116.1 57.2C116.8 59.7 117.8 62.2 118.4 64.8Z" fill="#fedfa8" stroke="#f3b09c" stroke-width="1.0" stroke-opacity="0.35" filter="url(#b1)"/>
<path d="M107.1 64.8C107.6 66.9 108.0 69.2 107.9 71.3C107.8 73.4 107.3 75.6 106.5 77.5C105.7 79.5 104.4 81.3 103.2 83.0C102.0 84.7 100.7 86.2 99.5 87.9C98.4 89.5 97.4 91.2 96.3 92.9C95.3 94.5 94.3 96.3 93.1 97.9C91.9 99.5 90.5 101.0 89.0 102.2C87.5 103.5 85.8 104.5 84.1 105.4C82.4 106.4 80.6 107.1 78.9 108.0C77.1 108.9 75.4 109.9 73.6 110.8C71.8 111.7 70.0 112.7 68.1 113.2C66.1 113.8 64.1 114.1 62.1 114.0C60.1 113.8 58.1 113.1 56.2 112.3C54.4 111.6 52.6 110.3 50.9 109.4C49.2 108.4 47.6 107.5 45.8 106.7C44.1 106.0 42.3 105.5 40.5 104.8C38.7 104.0 36.7 103.4 35.1 102.4C33.4 101.4 31.8 100.1 30.4 98.7C29.0 97.2 27.9 95.5 26.7 93.8C25.6 92.1 24.6 90.3 23.6 88.6C22.5 86.8 21.4 85.1 20.5 83.2C19.6 81.4 18.6 79.4 18.1 77.4C17.5 75.4 17.3 73.2 17.4 71.1C17.5 69.0 18.0 66.9 18.5 64.8C18.9 62.8 19.6 60.9 20.0 58.9C20.4 57.0 20.6 55.1 20.8 53.0C21.1 51.0 21.0 48.9 21.3 46.8C21.6 44.7 22.0 42.5 22.8 40.6C23.6 38.7 24.7 36.9 26.0 35.3C27.3 33.7 28.9 32.4 30.4 31.0C31.9 29.7 33.5 28.5 35.0 27.2C36.6 26.0 38.1 24.6 39.7 23.5C41.4 22.4 43.1 21.4 44.9 20.7C46.8 20.0 48.8 19.6 50.7 19.4C52.6 19.3 54.6 19.5 56.5 19.5C58.4 19.5 60.2 19.5 62.1 19.4C64.0 19.2 65.8 18.8 67.8 18.6C69.8 18.3 71.9 17.9 73.8 18.0C75.8 18.2 77.9 18.6 79.7 19.4C81.6 20.2 83.3 21.5 84.8 22.9C86.3 24.2 87.7 25.9 89.0 27.4C90.4 28.9 91.7 30.3 93.1 31.8C94.4 33.3 95.8 34.6 97.1 36.2C98.3 37.8 99.5 39.5 100.3 41.3C101.2 43.1 101.8 45.1 102.4 47.0C102.9 49.0 103.2 51.0 103.7 52.9C104.2 54.9 104.7 56.8 105.3 58.8C105.9 60.7 106.7 62.7 107.1 64.8Z" fill="#fee2ac" filter="url(#b2)"/>
<g filter="url(#b2)" opacity="0.45"><ellipse cx="24.7" cy="26.0" rx="1.95" ry="1.95" fill="#f29aa0" transform="rotate(151 24.7 26.0)"/><ellipse cx="69.6" cy="16.2" rx="1.49" ry="2.69" fill="#f29aa0" transform="rotate(363 69.6 16.2)"/><ellipse cx="98.3" cy="93.6" rx="1.58" ry="1.59" fill="#f29aa0" transform="rotate(29 98.3 93.6)"/><ellipse cx="75.7" cy="17.2" rx="1.46" ry="2.02" fill="#f29aa0" transform="rotate(362 75.7 17.2)"/><ellipse cx="49.2" cy="119.4" rx="1.66" ry="1.35" fill="#f29aa0" transform="rotate(174 49.2 119.4)"/><ellipse cx="98.7" cy="34.0" rx="1.31" ry="1.54" fill="#f29aa0" transform="rotate(60 98.7 34.0)"/><ellipse cx="83.4" cy="14.3" rx="1.98" ry="2.14" fill="#f29aa0" transform="rotate(400 83.4 14.3)"/><ellipse cx="14.6" cy="71.0" rx="1.30" ry="0.96" fill="#f29aa0" transform="rotate(171 14.6 71.0)"/><ellipse cx="31.9" cy="105.0" rx="1.37" ry="1.54" fill="#f29aa0" transform="rotate(82 31.9 105.0)"/><ellipse cx="95.6" cy="97.9" rx="1.42" ry="1.70" fill="#f29aa0" transform="rotate(140 95.6 97.9)"/><ellipse cx="101.3" cy="98.6" rx="2.09" ry="1.39" fill="#f29aa0" transform="rotate(38 101.3 98.6)"/><ellipse cx="16.3" cy="60.9" rx="0.92" ry="1.68" fill="#f29aa0" transform="rotate(56 16.3 60.9)"/><ellipse cx="44.2" cy="107.5" rx="1.06" ry="1.89" fill="#f29aa0" transform="rotate(29 44.2 107.5)"/><ellipse cx="115.2" cy="82.7" rx="1.58" ry="1.67" fill="#f29aa0" transform="rotate(149 115.2 82.7)"/><ellipse cx="14.4" cy="79.4" rx="1.49" ry="0.93" fill="#f29aa0" transform="rotate(60 14.4 79.4)"/><ellipse cx="76.6" cy="120.7" rx="1.05" ry="2.13" fill="#f29aa0" transform="rotate(19 76.6 120.7)"/><ellipse cx="94.5" cy="18.7" rx="1.67" ry="2.33" fill="#f29aa0" transform="rotate(49 94.5 18.7)"/><ellipse cx="8.4" cy="75.7" rx="1.41" ry="1.49" fill="#f29aa0" transform="rotate(113 8.4 75.7)"/><ellipse cx="15.5" cy="65.0" rx="0.92" ry="1.77" fill="#f29aa0" transform="rotate(11 15.5 65.0)"/><ellipse cx="75.8" cy="14.7" rx="1.38" ry="2.57" fill="#f29aa0" transform="rotate(393 75.8 14.7)"/><ellipse cx="56.9" cy="123.6" rx="1.97" ry="1.50" fill="#f29aa0" transform="rotate(105 56.9 123.6)"/><ellipse cx="113.2" cy="68.8" rx="1.87" ry="1.97" fill="#f29aa0" transform="rotate(63 113.2 68.8)"/><ellipse cx="15.1" cy="59.1" rx="1.42" ry="1.95" fill="#f29aa0" transform="rotate(51 15.1 59.1)"/><ellipse cx="105.9" cy="90.1" rx="1.81" ry="2.61" fill="#f29aa0" transform="rotate(54 105.9 90.1)"/><ellipse cx="13.1" cy="46.7" rx="1.57" ry="1.12" fill="#f29aa0" transform="rotate(112 13.1 46.7)"/><ellipse cx="83.7" cy="114.3" rx="1.70" ry="2.23" fill="#f29aa0" transform="rotate(30 83.7 114.3)"/><ellipse cx="12.2" cy="70.6" rx="0.99" ry="1.64" fill="#f29aa0" transform="rotate(106 12.2 70.6)"/><ellipse cx="66.3" cy="123.7" rx="1.35" ry="1.43" fill="#f29aa0" transform="rotate(156 66.3 123.7)"/><ellipse cx="18.6" cy="49.8" rx="1.13" ry="1.96" fill="#f29aa0" transform="rotate(172 18.6 49.8)"/><ellipse cx="83.0" cy="16.3" rx="1.92" ry="2.68" fill="#f29aa0" transform="rotate(368 83.0 16.3)"/><ellipse cx="25.6" cy="100.2" rx="0.79" ry="1.00" fill="#f29aa0" transform="rotate(69 25.6 100.2)"/><ellipse cx="38.3" cy="113.8" rx="1.26" ry="2.10" fill="#f29aa0" transform="rotate(77 38.3 113.8)"/><ellipse cx="109.6" cy="57.4" rx="1.92" ry="1.86" fill="#f29aa0" transform="rotate(107 109.6 57.4)"/><ellipse cx="58.7" cy="124.2" rx="1.36" ry="1.48" fill="#f29aa0" transform="rotate(89 58.7 124.2)"/><ellipse cx="51.2" cy="114.7" rx="1.59" ry="1.62" fill="#f29aa0" transform="rotate(7 51.2 114.7)"/><ellipse cx="93.3" cy="103.3" rx="1.53" ry="1.39" fill="#f29aa0" transform="rotate(141 93.3 103.3)"/><ellipse cx="63.4" cy="116.5" rx="2.01" ry="1.45" fill="#f29aa0" transform="rotate(93 63.4 116.5)"/><ellipse cx="96.5" cy="22.4" rx="1.14" ry="1.52" fill="#f29aa0" transform="rotate(96 96.5 22.4)"/><ellipse cx="38.4" cy="106.8" rx="1.42" ry="1.53" fill="#f29aa0" transform="rotate(7 38.4 106.8)"/><ellipse cx="99.5" cy="30.9" rx="1.99" ry="1.92" fill="#f29aa0" transform="rotate(155 99.5 30.9)"/><ellipse cx="88.9" cy="20.5" rx="1.99" ry="3.63" fill="#f29aa0" transform="rotate(409 88.9 20.5)"/><ellipse cx="110.1" cy="87.4" rx="1.61" ry="1.73" fill="#f29aa0" transform="rotate(164 110.1 87.4)"/><ellipse cx="92.5" cy="105.4" rx="1.46" ry="1.49" fill="#f29aa0" transform="rotate(77 92.5 105.4)"/><ellipse cx="57.2" cy="113.1" rx="1.95" ry="1.49" fill="#f29aa0" transform="rotate(176 57.2 113.1)"/><ellipse cx="113.9" cy="64.3" rx="2.07" ry="1.64" fill="#f29aa0" transform="rotate(128 113.9 64.3)"/><ellipse cx="91.6" cy="108.0" rx="1.08" ry="1.82" fill="#f29aa0" transform="rotate(100 91.6 108.0)"/><ellipse cx="34.3" cy="18.0" rx="1.54" ry="1.25" fill="#f29aa0" transform="rotate(158 34.3 18.0)"/><ellipse cx="94.0" cy="103.1" rx="1.57" ry="1.67" fill="#f29aa0" transform="rotate(165 94.0 103.1)"/><ellipse cx="92.3" cy="102.9" rx="1.66" ry="1.45" fill="#f29aa0" transform="rotate(47 92.3 102.9)"/><ellipse cx="19.0" cy="59.9" rx="1.01" ry="1.72" fill="#f29aa0" transform="rotate(24 19.0 59.9)"/><ellipse cx="111.1" cy="71.0" rx="1.16" ry="2.51" fill="#f29aa0" transform="rotate(43 111.1 71.0)"/><ellipse cx="96.6" cy="28.9" rx="2.01" ry="1.39" fill="#f29aa0" transform="rotate(10 96.6 28.9)"/><ellipse cx="93.4" cy="111.3" rx="1.15" ry="1.25" fill="#f29aa0" transform="rotate(148 93.4 111.3)"/><ellipse cx="94.1" cy="106.0" rx="1.16" ry="1.50" fill="#f29aa0" transform="rotate(143 94.1 106.0)"/><ellipse cx="24.6" cy="103.3" rx="0.94" ry="1.61" fill="#f29aa0" transform="rotate(93 24.6 103.3)"/><ellipse cx="19.3" cy="34.8" rx="1.34" ry="1.23" fill="#f29aa0" transform="rotate(34 19.3 34.8)"/><ellipse cx="36.8" cy="21.6" rx="1.23" ry="2.17" fill="#f29aa0" transform="rotate(58 36.8 21.6)"/><ellipse cx="109.3" cy="89.0" rx="1.65" ry="2.09" fill="#f29aa0" transform="rotate(50 109.3 89.0)"/><ellipse cx="86.6" cy="107.0" rx="1.44" ry="1.16" fill="#f29aa0" transform="rotate(57 86.6 107.0)"/><ellipse cx="103.5" cy="82.0" rx="2.07" ry="1.56" fill="#f29aa0" transform="rotate(52 103.5 82.0)"/><ellipse cx="38.3" cy="15.5" rx="1.53" ry="2.06" fill="#f29aa0" transform="rotate(341 38.3 15.5)"/><ellipse cx="22.0" cy="25.9" rx="1.66" ry="1.33" fill="#f29aa0" transform="rotate(51 22.0 25.9)"/><ellipse cx="56.6" cy="12.3" rx="1.56" ry="3.22" fill="#f29aa0" transform="rotate(361 56.6 12.3)"/><ellipse cx="12.6" cy="89.4" rx="0.73" ry="1.77" fill="#f29aa0" transform="rotate(31 12.6 89.4)"/><ellipse cx="115.8" cy="77.0" rx="1.76" ry="2.61" fill="#f29aa0" transform="rotate(43 115.8 77.0)"/><ellipse cx="77.3" cy="18.0" rx="1.96" ry="3.17" fill="#f29aa0" transform="rotate(374 77.3 18.0)"/><ellipse cx="105.6" cy="83.3" rx="1.46" ry="1.41" fill="#f29aa0" transform="rotate(171 105.6 83.3)"/><ellipse cx="79.4" cy="115.7" rx="1.11" ry="1.38" fill="#f29aa0" transform="rotate(142 79.4 115.7)"/><ellipse cx="107.1" cy="94.0" rx="1.21" ry="2.33" fill="#f29aa0" transform="rotate(79 107.1 94.0)"/><ellipse cx="31.8" cy="105.1" rx="1.48" ry="1.27" fill="#f29aa0" transform="rotate(164 31.8 105.1)"/><ellipse cx="45.6" cy="111.3" rx="1.15" ry="1.25" fill="#f29aa0" transform="rotate(87 45.6 111.3)"/><ellipse cx="70.8" cy="15.9" rx="1.46" ry="2.98" fill="#f29aa0" transform="rotate(358 70.8 15.9)"/><ellipse cx="102.7" cy="90.2" rx="1.40" ry="1.43" fill="#f29aa0" transform="rotate(9 102.7 90.2)"/><ellipse cx="76.5" cy="112.1" rx="1.01" ry="1.59" fill="#f29aa0" transform="rotate(68 76.5 112.1)"/><ellipse cx="67.3" cy="19.2" rx="2.19" ry="2.25" fill="#f29aa0" transform="rotate(364 67.3 19.2)"/><ellipse cx="55.3" cy="12.5" rx="2.07" ry="2.70" fill="#f29aa0" transform="rotate(343 55.3 12.5)"/><ellipse cx="47.0" cy="108.3" rx="1.26" ry="1.16" fill="#f29aa0" transform="rotate(5 47.0 108.3)"/><ellipse cx="106.0" cy="80.3" rx="2.09" ry="2.62" fill="#f29aa0" transform="rotate(42 106.0 80.3)"/><ellipse cx="18.8" cy="87.0" rx="0.68" ry="1.55" fill="#f29aa0" transform="rotate(131 18.8 87.0)"/><ellipse cx="101.7" cy="93.7" rx="1.92" ry="1.95" fill="#f29aa0" transform="rotate(143 101.7 93.7)"/><ellipse cx="13.8" cy="77.7" rx="1.36" ry="1.95" fill="#f29aa0" transform="rotate(175 13.8 77.7)"/><ellipse cx="113.0" cy="76.2" rx="2.11" ry="1.87" fill="#f29aa0" transform="rotate(36 113.0 76.2)"/><ellipse cx="83.3" cy="18.1" rx="2.03" ry="3.43" fill="#f29aa0" transform="rotate(378 83.3 18.1)"/><ellipse cx="62.7" cy="124.9" rx="1.85" ry="1.81" fill="#f29aa0" transform="rotate(63 62.7 124.9)"/><ellipse cx="90.9" cy="103.3" rx="1.00" ry="1.57" fill="#f29aa0" transform="rotate(162 90.9 103.3)"/><ellipse cx="78.4" cy="117.5" rx="1.66" ry="2.09" fill="#f29aa0" transform="rotate(144 78.4 117.5)"/><ellipse cx="30.4" cy="98.0" rx="1.20" ry="1.10" fill="#f29aa0" transform="rotate(4 30.4 98.0)"/><ellipse cx="39.9" cy="16.1" rx="1.80" ry="3.00" fill="#f29aa0" transform="rotate(332 39.9 16.1)"/><ellipse cx="74.0" cy="12.2" rx="1.85" ry="2.13" fill="#f29aa0" transform="rotate(388 74.0 12.2)"/><ellipse cx="17.8" cy="58.2" rx="0.75" ry="1.30" fill="#f29aa0" transform="rotate(55 17.8 58.2)"/><ellipse cx="103.8" cy="43.6" rx="1.20" ry="2.36" fill="#f29aa0" transform="rotate(161 103.8 43.6)"/><ellipse cx="41.8" cy="12.4" rx="1.89" ry="2.39" fill="#f29aa0" transform="rotate(357 41.8 12.4)"/><ellipse cx="65.9" cy="124.6" rx="1.34" ry="1.12" fill="#f29aa0" transform="rotate(68 65.9 124.6)"/><ellipse cx="62.3" cy="14.2" rx="1.95" ry="2.60" fill="#f29aa0" transform="rotate(341 62.3 14.2)"/><ellipse cx="43.3" cy="15.3" rx="1.68" ry="3.61" fill="#f29aa0" transform="rotate(328 43.3 15.3)"/><ellipse cx="77.9" cy="9.9" rx="2.20" ry="2.16" fill="#f29aa0" transform="rotate(390 77.9 9.9)"/><ellipse cx="69.3" cy="112.9" rx="1.83" ry="2.11" fill="#f29aa0" transform="rotate(75 69.3 112.9)"/><ellipse cx="47.6" cy="110.3" rx="1.98" ry="1.33" fill="#f29aa0" transform="rotate(27 47.6 110.3)"/><ellipse cx="48.5" cy="114.1" rx="1.38" ry="1.49" fill="#f29aa0" transform="rotate(116 48.5 114.1)"/><ellipse cx="43.0" cy="13.3" rx="1.78" ry="3.52" fill="#f29aa0" transform="rotate(329 43.0 13.3)"/><ellipse cx="69.0" cy="120.6" rx="1.43" ry="1.23" fill="#f29aa0" transform="rotate(121 69.0 120.6)"/><ellipse cx="97.5" cy="96.7" rx="1.75" ry="1.77" fill="#f29aa0" transform="rotate(133 97.5 96.7)"/><ellipse cx="84.1" cy="11.9" rx="2.17" ry="3.74" fill="#f29aa0" transform="rotate(377 84.1 11.9)"/><ellipse cx="80.8" cy="18.0" rx="1.50" ry="3.62" fill="#f29aa0" transform="rotate(370 80.8 18.0)"/><ellipse cx="106.6" cy="46.5" rx="2.22" ry="2.64" fill="#f29aa0" transform="rotate(123 106.6 46.5)"/><ellipse cx="108.1" cy="88.7" rx="1.45" ry="1.50" fill="#f29aa0" transform="rotate(180 108.1 88.7)"/><ellipse cx="62.3" cy="17.8" rx="1.47" ry="3.64" fill="#f29aa0" transform="rotate(364 62.3 17.8)"/><ellipse cx="49.0" cy="111.7" rx="1.48" ry="1.18" fill="#f29aa0" transform="rotate(177 49.0 111.7)"/><ellipse cx="55.2" cy="119.8" rx="1.98" ry="1.74" fill="#f29aa0" transform="rotate(177 55.2 119.8)"/><ellipse cx="100.8" cy="91.7" rx="1.13" ry="2.38" fill="#f29aa0" transform="rotate(146 100.8 91.7)"/><ellipse cx="80.0" cy="116.7" rx="1.48" ry="2.19" fill="#f29aa0" transform="rotate(91 80.0 116.7)"/><ellipse cx="108.3" cy="81.9" rx="1.61" ry="2.14" fill="#f29aa0" transform="rotate(39 108.3 81.9)"/><ellipse cx="84.4" cy="17.1" rx="1.36" ry="3.48" fill="#f29aa0" transform="rotate(406 84.4 17.1)"/><ellipse cx="93.0" cy="109.2" rx="1.99" ry="2.24" fill="#f29aa0" transform="rotate(71 93.0 109.2)"/><ellipse cx="78.4" cy="109.3" rx="0.90" ry="1.83" fill="#f29aa0" transform="rotate(136 78.4 109.3)"/><ellipse cx="106.4" cy="89.7" rx="1.58" ry="1.55" fill="#f29aa0" transform="rotate(135 106.4 89.7)"/><ellipse cx="15.3" cy="66.8" rx="1.09" ry="0.98" fill="#f29aa0" transform="rotate(169 15.3 66.8)"/><ellipse cx="108.9" cy="74.7" rx="1.42" ry="2.36" fill="#f29aa0" transform="rotate(60 108.9 74.7)"/><ellipse cx="100.5" cy="31.9" rx="1.24" ry="1.88" fill="#f29aa0" transform="rotate(66 100.5 31.9)"/><ellipse cx="65.0" cy="120.0" rx="1.51" ry="1.94" fill="#f29aa0" transform="rotate(43 65.0 120.0)"/><ellipse cx="39.3" cy="23.8" rx="1.13" ry="1.38" fill="#f29aa0" transform="rotate(143 39.3 23.8)"/><ellipse cx="108.8" cy="83.2" rx="1.55" ry="1.81" fill="#f29aa0" transform="rotate(100 108.8 83.2)"/><ellipse cx="19.7" cy="82.9" rx="1.49" ry="1.53" fill="#f29aa0" transform="rotate(128 19.7 82.9)"/><ellipse cx="104.2" cy="88.6" rx="1.71" ry="1.87" fill="#f29aa0" transform="rotate(147 104.2 88.6)"/><ellipse cx="28.1" cy="102.0" rx="0.73" ry="0.90" fill="#f29aa0" transform="rotate(102 28.1 102.0)"/><ellipse cx="113.7" cy="79.8" rx="2.11" ry="1.85" fill="#f29aa0" transform="rotate(47 113.7 79.8)"/><ellipse cx="53.7" cy="119.8" rx="1.19" ry="2.05" fill="#f29aa0" transform="rotate(70 53.7 119.8)"/><ellipse cx="29.8" cy="28.7" rx="1.88" ry="1.61" fill="#f29aa0" transform="rotate(107 29.8 28.7)"/><ellipse cx="13.2" cy="42.0" rx="1.04" ry="1.63" fill="#f29aa0" transform="rotate(121 13.2 42.0)"/><ellipse cx="36.0" cy="26.8" rx="1.36" ry="1.72" fill="#f29aa0" transform="rotate(110 36.0 26.8)"/><ellipse cx="71.9" cy="122.6" rx="0.97" ry="1.89" fill="#f29aa0" transform="rotate(8 71.9 122.6)"/><ellipse cx="52.2" cy="16.7" rx="1.83" ry="3.52" fill="#f29aa0" transform="rotate(329 52.2 16.7)"/><ellipse cx="63.4" cy="17.0" rx="1.35" ry="3.38" fill="#f29aa0" transform="rotate(360 63.4 17.0)"/><ellipse cx="87.8" cy="105.4" rx="1.96" ry="1.35" fill="#f29aa0" transform="rotate(27 87.8 105.4)"/><ellipse cx="112.8" cy="62.7" rx="1.70" ry="1.88" fill="#f29aa0" transform="rotate(25 112.8 62.7)"/><ellipse cx="11.2" cy="67.8" rx="1.19" ry="1.92" fill="#f29aa0" transform="rotate(78 11.2 67.8)"/><ellipse cx="71.9" cy="114.0" rx="1.52" ry="1.40" fill="#f29aa0" transform="rotate(53 71.9 114.0)"/><ellipse cx="97.5" cy="95.2" rx="2.12" ry="1.70" fill="#f29aa0" transform="rotate(172 97.5 95.2)"/><ellipse cx="100.0" cy="101.2" rx="1.01" ry="1.83" fill="#f29aa0" transform="rotate(9 100.0 101.2)"/><ellipse cx="108.0" cy="56.2" rx="1.93" ry="1.70" fill="#f29aa0" transform="rotate(154 108.0 56.2)"/><ellipse cx="96.5" cy="31.4" rx="1.50" ry="2.69" fill="#f29aa0" transform="rotate(11 96.5 31.4)"/><ellipse cx="75.8" cy="8.6" rx="1.44" ry="2.77" fill="#f29aa0" transform="rotate(371 75.8 8.6)"/><ellipse cx="107.2" cy="45.5" rx="1.89" ry="1.78" fill="#f29aa0" transform="rotate(170 107.2 45.5)"/><ellipse cx="98.5" cy="99.0" rx="2.00" ry="1.73" fill="#f29aa0" transform="rotate(21 98.5 99.0)"/><ellipse cx="45.9" cy="111.5" rx="0.94" ry="2.11" fill="#f29aa0" transform="rotate(69 45.9 111.5)"/><ellipse cx="26.3" cy="22.1" rx="1.81" ry="1.71" fill="#f29aa0" transform="rotate(55 26.3 22.1)"/><ellipse cx="93.2" cy="22.6" rx="1.74" ry="2.42" fill="#f29aa0" transform="rotate(51 93.2 22.6)"/><ellipse cx="60.5" cy="17.3" rx="2.03" ry="3.10" fill="#f29aa0" transform="rotate(363 60.5 17.3)"/><ellipse cx="17.6" cy="81.8" rx="1.25" ry="1.70" fill="#f29aa0" transform="rotate(112 17.6 81.8)"/><ellipse cx="90.4" cy="27.1" rx="1.24" ry="2.13" fill="#f29aa0" transform="rotate(113 90.4 27.1)"/><ellipse cx="46.0" cy="14.6" rx="1.53" ry="2.06" fill="#f29aa0" transform="rotate(348 46.0 14.6)"/><ellipse cx="94.3" cy="102.7" rx="1.99" ry="1.27" fill="#f29aa0" transform="rotate(136 94.3 102.7)"/><ellipse cx="56.3" cy="20.0" rx="1.63" ry="3.55" fill="#f29aa0" transform="rotate(348 56.3 20.0)"/><ellipse cx="89.2" cy="17.7" rx="2.00" ry="2.92" fill="#f29aa0" transform="rotate(375 89.2 17.7)"/><ellipse cx="69.1" cy="9.9" rx="1.83" ry="2.88" fill="#f29aa0" transform="rotate(380 69.1 9.9)"/><ellipse cx="84.1" cy="106.9" rx="1.64" ry="1.57" fill="#f29aa0" transform="rotate(69 84.1 106.9)"/><ellipse cx="33.6" cy="25.9" rx="0.91" ry="1.86" fill="#f29aa0" transform="rotate(134 33.6 25.9)"/><ellipse cx="14.8" cy="63.6" rx="1.33" ry="1.32" fill="#f29aa0" transform="rotate(141 14.8 63.6)"/><ellipse cx="54.5" cy="10.4" rx="1.35" ry="2.78" fill="#f29aa0" transform="rotate(327 54.5 10.4)"/><ellipse cx="66.5" cy="18.2" rx="1.74" ry="3.46" fill="#f29aa0" transform="rotate(355 66.5 18.2)"/><ellipse cx="107.7" cy="89.4" rx="1.81" ry="1.97" fill="#f29aa0" transform="rotate(4 107.7 89.4)"/><ellipse cx="102.2" cy="26.9" rx="1.20" ry="1.80" fill="#f29aa0" transform="rotate(96 102.2 26.9)"/><ellipse cx="96.5" cy="33.6" rx="1.16" ry="1.42" fill="#f29aa0" transform="rotate(131 96.5 33.6)"/><ellipse cx="102.1" cy="31.5" rx="1.57" ry="1.95" fill="#f29aa0" transform="rotate(173 102.1 31.5)"/><ellipse cx="54.7" cy="117.2" rx="1.67" ry="2.06" fill="#f29aa0" transform="rotate(137 54.7 117.2)"/><ellipse cx="98.4" cy="23.9" rx="1.59" ry="2.23" fill="#f29aa0" transform="rotate(132 98.4 23.9)"/><ellipse cx="76.7" cy="115.7" rx="1.87" ry="1.17" fill="#f29aa0" transform="rotate(66 76.7 115.7)"/><ellipse cx="102.4" cy="94.0" rx="1.28" ry="1.73" fill="#f29aa0" transform="rotate(98 102.4 94.0)"/><ellipse cx="47.3" cy="9.9" rx="1.97" ry="2.86" fill="#f29aa0" transform="rotate(355 47.3 9.9)"/><ellipse cx="98.5" cy="30.8" rx="2.23" ry="2.32" fill="#f29aa0" transform="rotate(136 98.5 30.8)"/><ellipse cx="9.4" cy="72.8" rx="1.50" ry="1.58" fill="#f29aa0" transform="rotate(31 9.4 72.8)"/><ellipse cx="68.3" cy="116.1" rx="0.98" ry="1.72" fill="#f29aa0" transform="rotate(15 68.3 116.1)"/><ellipse cx="35.5" cy="23.1" rx="1.26" ry="1.32" fill="#f29aa0" transform="rotate(154 35.5 23.1)"/><ellipse cx="70.6" cy="15.4" rx="1.46" ry="2.95" fill="#f29aa0" transform="rotate(384 70.6 15.4)"/><ellipse cx="96.8" cy="25.9" rx="1.67" ry="2.53" fill="#f29aa0" transform="rotate(80 96.8 25.9)"/><ellipse cx="89.2" cy="105.2" rx="0.98" ry="1.88" fill="#f29aa0" transform="rotate(159 89.2 105.2)"/><ellipse cx="87.2" cy="17.1" rx="1.68" ry="2.76" fill="#f29aa0" transform="rotate(382 87.2 17.1)"/><ellipse cx="103.2" cy="49.0" rx="1.36" ry="2.26" fill="#f29aa0" transform="rotate(59 103.2 49.0)"/><ellipse cx="86.4" cy="17.8" rx="2.21" ry="3.28" fill="#f29aa0" transform="rotate(394 86.4 17.8)"/><ellipse cx="97.9" cy="33.0" rx="2.12" ry="2.05" fill="#f29aa0" transform="rotate(152 97.9 33.0)"/><ellipse cx="17.8" cy="42.7" rx="1.59" ry="1.58" fill="#f29aa0" transform="rotate(22 17.8 42.7)"/><ellipse cx="105.7" cy="84.4" rx="2.00" ry="1.91" fill="#f29aa0" transform="rotate(32 105.7 84.4)"/><ellipse cx="12.4" cy="83.6" rx="0.77" ry="1.74" fill="#f29aa0" transform="rotate(12 12.4 83.6)"/><ellipse cx="105.0" cy="90.5" rx="1.86" ry="1.39" fill="#f29aa0" transform="rotate(53 105.0 90.5)"/><ellipse cx="18.0" cy="44.9" rx="1.42" ry="1.16" fill="#f29aa0" transform="rotate(85 18.0 44.9)"/><ellipse cx="41.6" cy="111.6" rx="1.89" ry="1.54" fill="#f29aa0" transform="rotate(170 41.6 111.6)"/><ellipse cx="105.8" cy="46.4" rx="2.24" ry="1.52" fill="#f29aa0" transform="rotate(64 105.8 46.4)"/><ellipse cx="84.5" cy="116.6" rx="1.66" ry="1.48" fill="#f29aa0" transform="rotate(111 84.5 116.6)"/><ellipse cx="15.0" cy="85.7" rx="0.93" ry="0.94" fill="#f29aa0" transform="rotate(119 15.0 85.7)"/><ellipse cx="64.1" cy="119.2" rx="1.46" ry="2.13" fill="#f29aa0" transform="rotate(18 64.1 119.2)"/><ellipse cx="38.0" cy="107.2" rx="0.91" ry="1.34" fill="#f29aa0" transform="rotate(49 38.0 107.2)"/><ellipse cx="20.4" cy="57.5" rx="1.56" ry="1.78" fill="#f29aa0" transform="rotate(66 20.4 57.5)"/><ellipse cx="115.0" cy="70.8" rx="1.24" ry="2.28" fill="#f29aa0" transform="rotate(45 115.0 70.8)"/><ellipse cx="58.9" cy="10.2" rx="2.05" ry="2.48" fill="#f29aa0" transform="rotate(370 58.9 10.2)"/><ellipse cx="46.2" cy="110.9" rx="1.98" ry="2.06" fill="#f29aa0" transform="rotate(85 46.2 110.9)"/><ellipse cx="67.2" cy="113.5" rx="1.74" ry="2.18" fill="#f29aa0" transform="rotate(69 67.2 113.5)"/><ellipse cx="19.6" cy="42.4" rx="1.19" ry="1.63" fill="#f29aa0" transform="rotate(133 19.6 42.4)"/><ellipse cx="103.7" cy="42.0" rx="1.81" ry="1.35" fill="#f29aa0" transform="rotate(107 103.7 42.0)"/><ellipse cx="41.9" cy="109.1" rx="1.61" ry="2.08" fill="#f29aa0" transform="rotate(82 41.9 109.1)"/><ellipse cx="42.2" cy="15.2" rx="2.16" ry="3.03" fill="#f29aa0" transform="rotate(323 42.2 15.2)"/><ellipse cx="76.2" cy="117.0" rx="1.21" ry="1.94" fill="#f29aa0" transform="rotate(137 76.2 117.0)"/><ellipse cx="86.2" cy="111.1" rx="1.84" ry="1.79" fill="#f29aa0" transform="rotate(157 86.2 111.1)"/><ellipse cx="26.7" cy="25.0" rx="1.11" ry="1.64" fill="#f29aa0" transform="rotate(122 26.7 25.0)"/><ellipse cx="106.0" cy="62.4" rx="1.31" ry="1.56" fill="#f29aa0" transform="rotate(68 106.0 62.4)"/><ellipse cx="90.3" cy="16.1" rx="1.65" ry="2.37" fill="#f29aa0" transform="rotate(404 90.3 16.1)"/><ellipse cx="82.7" cy="112.2" rx="1.70" ry="1.43" fill="#f29aa0" transform="rotate(14 82.7 112.2)"/><ellipse cx="31.7" cy="108.5" rx="0.92" ry="1.38" fill="#f29aa0" transform="rotate(145 31.7 108.5)"/><ellipse cx="23.8" cy="103.8" rx="1.03" ry="2.00" fill="#f29aa0" transform="rotate(120 23.8 103.8)"/><ellipse cx="53.4" cy="14.8" rx="2.04" ry="3.73" fill="#f29aa0" transform="rotate(335 53.4 14.8)"/><ellipse cx="68.3" cy="16.3" rx="1.50" ry="2.79" fill="#f29aa0" transform="rotate(389 68.3 16.3)"/><ellipse cx="48.7" cy="12.4" rx="1.55" ry="3.12" fill="#f29aa0" transform="rotate(334 48.7 12.4)"/><ellipse cx="109.2" cy="58.7" rx="2.07" ry="1.58" fill="#f29aa0" transform="rotate(87 109.2 58.7)"/><ellipse cx="11.7" cy="68.0" rx="0.88" ry="1.69" fill="#f29aa0" transform="rotate(172 11.7 68.0)"/><ellipse cx="105.8" cy="92.2" rx="1.73" ry="2.41" fill="#f29aa0" transform="rotate(2 105.8 92.2)"/><ellipse cx="45.7" cy="13.1" rx="1.45" ry="2.10" fill="#f29aa0" transform="rotate(358 45.7 13.1)"/><ellipse cx="18.7" cy="82.8" rx="0.69" ry="1.78" fill="#f29aa0" transform="rotate(96 18.7 82.8)"/><ellipse cx="36.9" cy="17.6" rx="1.99" ry="3.76" fill="#f29aa0" transform="rotate(331 36.9 17.6)"/><ellipse cx="92.9" cy="18.2" rx="1.98" ry="2.14" fill="#f29aa0" transform="rotate(90 92.9 18.2)"/><ellipse cx="54.1" cy="114.2" rx="1.17" ry="1.87" fill="#f29aa0" transform="rotate(161 54.1 114.2)"/><ellipse cx="14.4" cy="72.3" rx="1.00" ry="0.90" fill="#f29aa0" transform="rotate(142 14.4 72.3)"/><ellipse cx="65.9" cy="116.5" rx="1.92" ry="1.98" fill="#f29aa0" transform="rotate(19 65.9 116.5)"/><ellipse cx="19.2" cy="47.1" rx="1.60" ry="1.17" fill="#f29aa0" transform="rotate(18 19.2 47.1)"/><ellipse cx="70.7" cy="115.5" rx="1.38" ry="1.85" fill="#f29aa0" transform="rotate(1 70.7 115.5)"/><ellipse cx="58.8" cy="124.3" rx="1.72" ry="2.03" fill="#f29aa0" transform="rotate(57 58.8 124.3)"/><ellipse cx="20.4" cy="47.1" rx="1.60" ry="1.53" fill="#f29aa0" transform="rotate(50 20.4 47.1)"/><ellipse cx="11.6" cy="87.4" rx="1.10" ry="1.73" fill="#f29aa0" transform="rotate(18 11.6 87.4)"/><ellipse cx="99.7" cy="97.9" rx="1.69" ry="1.87" fill="#f29aa0" transform="rotate(121 99.7 97.9)"/><ellipse cx="38.7" cy="18.0" rx="1.48" ry="2.07" fill="#f29aa0" transform="rotate(338 38.7 18.0)"/><ellipse cx="15.9" cy="94.7" rx="1.18" ry="1.90" fill="#f29aa0" transform="rotate(47 15.9 94.7)"/><ellipse cx="69.4" cy="118.0" rx="1.20" ry="1.81" fill="#f29aa0" transform="rotate(178 69.4 118.0)"/><ellipse cx="15.2" cy="87.4" rx="0.72" ry="1.09" fill="#f29aa0" transform="rotate(77 15.2 87.4)"/><ellipse cx="88.6" cy="18.3" rx="1.56" ry="2.13" fill="#f29aa0" transform="rotate(375 88.6 18.3)"/><ellipse cx="10.2" cy="67.7" rx="1.52" ry="1.87" fill="#f29aa0" transform="rotate(21 10.2 67.7)"/><ellipse cx="17.3" cy="74.4" rx="1.27" ry="1.30" fill="#f29aa0" transform="rotate(13 17.3 74.4)"/><ellipse cx="43.3" cy="21.6" rx="1.66" ry="2.33" fill="#f29aa0" transform="rotate(329 43.3 21.6)"/><ellipse cx="19.5" cy="93.3" rx="1.42" ry="1.14" fill="#f29aa0" transform="rotate(135 19.5 93.3)"/><ellipse cx="101.8" cy="45.8" rx="1.23" ry="1.61" fill="#f29aa0" transform="rotate(136 101.8 45.8)"/><ellipse cx="24.8" cy="29.8" rx="1.38" ry="1.34" fill="#f29aa0" transform="rotate(71 24.8 29.8)"/><ellipse cx="18.2" cy="45.0" rx="1.15" ry="1.30" fill="#f29aa0" transform="rotate(50 18.2 45.0)"/><ellipse cx="71.7" cy="13.3" rx="2.14" ry="3.68" fill="#f29aa0" transform="rotate(384 71.7 13.3)"/><ellipse cx="41.7" cy="105.6" rx="1.98" ry="1.22" fill="#f29aa0" transform="rotate(109 41.7 105.6)"/><ellipse cx="7.9" cy="74.6" rx="1.38" ry="1.94" fill="#f29aa0" transform="rotate(142 7.9 74.6)"/><ellipse cx="51.3" cy="17.9" rx="1.49" ry="2.06" fill="#f29aa0" transform="rotate(356 51.3 17.9)"/><ellipse cx="68.7" cy="9.9" rx="1.85" ry="3.71" fill="#f29aa0" transform="rotate(377 68.7 9.9)"/><ellipse cx="72.7" cy="122.7" rx="1.55" ry="1.84" fill="#f29aa0" transform="rotate(126 72.7 122.7)"/><ellipse cx="75.9" cy="113.8" rx="1.58" ry="1.66" fill="#f29aa0" transform="rotate(133 75.9 113.8)"/><ellipse cx="42.4" cy="107.8" rx="1.99" ry="1.86" fill="#f29aa0" transform="rotate(110 42.4 107.8)"/><ellipse cx="69.5" cy="16.3" rx="2.06" ry="2.17" fill="#f29aa0" transform="rotate(374 69.5 16.3)"/><ellipse cx="111.0" cy="57.6" rx="2.23" ry="2.01" fill="#f29aa0" transform="rotate(7 111.0 57.6)"/><ellipse cx="23.2" cy="34.1" rx="1.19" ry="2.07" fill="#f29aa0" transform="rotate(106 23.2 34.1)"/><ellipse cx="95.3" cy="59.8" rx="2.69" ry="2.02" fill="#f29aa0" transform="rotate(0 95.3 59.8)"/><ellipse cx="82.1" cy="95.4" rx="2.69" ry="2.24" fill="#f29aa0" transform="rotate(0 82.1 95.4)"/><ellipse cx="74.8" cy="91.2" rx="1.35" ry="1.35" fill="#f29aa0" transform="rotate(0 74.8 91.2)"/><ellipse cx="15.4" cy="84.1" rx="3.14" ry="2.69" fill="#f29aa0" transform="rotate(0 15.4 84.1)"/><ellipse cx="22.0" cy="37.9" rx="2.24" ry="1.79" fill="#f29aa0" transform="rotate(0 22.0 37.9)"/><ellipse cx="27.3" cy="36.6" rx="2.02" ry="1.57" fill="#f29aa0" transform="rotate(0 27.3 36.6)"/><ellipse cx="41.8" cy="110.5" rx="2.69" ry="2.47" fill="#f29aa0" transform="rotate(0 41.8 110.5)"/><ellipse cx="82.7" cy="111.8" rx="2.92" ry="2.47" fill="#f29aa0" transform="rotate(0 82.7 111.8)"/><ellipse cx="18.0" cy="49.8" rx="1.57" ry="1.35" fill="#f29aa0" transform="rotate(0 18.0 49.8)"/><ellipse cx="110.4" cy="74.9" rx="3.59" ry="3.14" fill="#f29aa0" transform="rotate(0 110.4 74.9)"/><ellipse cx="111.7" cy="36.6" rx="3.14" ry="2.24" fill="#f29aa0" transform="rotate(0 111.7 36.6)"/><ellipse cx="52.3" cy="111.8" rx="1.57" ry="1.79" fill="#f29aa0" transform="rotate(0 52.3 111.8)"/><ellipse cx="49.7" cy="102.6" rx="1.35" ry="1.35" fill="#f29aa0" transform="rotate(0 49.7 102.6)"/><ellipse cx="28.6" cy="88.0" rx="1.12" ry="1.12" fill="#f29aa0" transform="rotate(0 28.6 88.0)"/></g>
<g filter="url(#b1)"><ellipse cx="24.7" cy="26.0" rx="1.95" ry="1.95" fill="#dc5a8a" transform="rotate(151 24.7 26.0)"/><ellipse cx="69.6" cy="16.2" rx="1.49" ry="2.69" fill="#d05086" transform="rotate(363 69.6 16.2)"/><ellipse cx="98.3" cy="93.6" rx="1.58" ry="1.59" fill="#ea829e" transform="rotate(29 98.3 93.6)"/><ellipse cx="75.7" cy="17.2" rx="1.46" ry="2.02" fill="#dc5a8a" transform="rotate(362 75.7 17.2)"/><ellipse cx="49.2" cy="119.4" rx="1.66" ry="1.35" fill="#d05086" transform="rotate(174 49.2 119.4)"/><ellipse cx="98.7" cy="34.0" rx="1.31" ry="1.54" fill="#d65488" transform="rotate(60 98.7 34.0)"/><ellipse cx="83.4" cy="14.3" rx="1.98" ry="2.14" fill="#ca4c86" transform="rotate(400 83.4 14.3)"/><ellipse cx="14.6" cy="71.0" rx="1.30" ry="0.96" fill="#dc5a8a" transform="rotate(171 14.6 71.0)"/><ellipse cx="31.9" cy="105.0" rx="1.37" ry="1.54" fill="#dc5a8a" transform="rotate(82 31.9 105.0)"/><ellipse cx="95.6" cy="97.9" rx="1.42" ry="1.70" fill="#e67698" transform="rotate(140 95.6 97.9)"/><ellipse cx="101.3" cy="98.6" rx="2.09" ry="1.39" fill="#d65488" transform="rotate(38 101.3 98.6)"/><ellipse cx="16.3" cy="60.9" rx="0.92" ry="1.68" fill="#d65488" transform="rotate(56 16.3 60.9)"/><ellipse cx="44.2" cy="107.5" rx="1.06" ry="1.89" fill="#ee8ea4" transform="rotate(29 44.2 107.5)"/><ellipse cx="115.2" cy="82.7" rx="1.58" ry="1.67" fill="#ca4c86" transform="rotate(149 115.2 82.7)"/><ellipse cx="14.4" cy="79.4" rx="1.49" ry="0.93" fill="#ee8ea4" transform="rotate(60 14.4 79.4)"/><ellipse cx="76.6" cy="120.7" rx="1.05" ry="2.13" fill="#ea829e" transform="rotate(19 76.6 120.7)"/><ellipse cx="94.5" cy="18.7" rx="1.67" ry="2.33" fill="#ee8ea4" transform="rotate(49 94.5 18.7)"/><ellipse cx="8.4" cy="75.7" rx="1.41" ry="1.49" fill="#e26c92" transform="rotate(113 8.4 75.7)"/><ellipse cx="15.5" cy="65.0" rx="0.92" ry="1.77" fill="#ca4c86" transform="rotate(11 15.5 65.0)"/><ellipse cx="75.8" cy="14.7" rx="1.38" ry="2.57" fill="#e67698" transform="rotate(393 75.8 14.7)"/><ellipse cx="56.9" cy="123.6" rx="1.97" ry="1.50" fill="#e26c92" transform="rotate(105 56.9 123.6)"/><ellipse cx="113.2" cy="68.8" rx="1.87" ry="1.97" fill="#ca4c86" transform="rotate(63 113.2 68.8)"/><ellipse cx="15.1" cy="59.1" rx="1.42" ry="1.95" fill="#ee8ea4" transform="rotate(51 15.1 59.1)"/><ellipse cx="105.9" cy="90.1" rx="1.81" ry="2.61" fill="#ea829e" transform="rotate(54 105.9 90.1)"/><ellipse cx="13.1" cy="46.7" rx="1.57" ry="1.12" fill="#ee8ea4" transform="rotate(112 13.1 46.7)"/><ellipse cx="83.7" cy="114.3" rx="1.70" ry="2.23" fill="#d05086" transform="rotate(30 83.7 114.3)"/><ellipse cx="12.2" cy="70.6" rx="0.99" ry="1.64" fill="#d65488" transform="rotate(106 12.2 70.6)"/><ellipse cx="66.3" cy="123.7" rx="1.35" ry="1.43" fill="#ea829e" transform="rotate(156 66.3 123.7)"/><ellipse cx="18.6" cy="49.8" rx="1.13" ry="1.96" fill="#e67698" transform="rotate(172 18.6 49.8)"/><ellipse cx="83.0" cy="16.3" rx="1.92" ry="2.68" fill="#e26c92" transform="rotate(368 83.0 16.3)"/><ellipse cx="25.6" cy="100.2" rx="0.79" ry="1.00" fill="#dc5a8a" transform="rotate(69 25.6 100.2)"/><ellipse cx="38.3" cy="113.8" rx="1.26" ry="2.10" fill="#ea829e" transform="rotate(77 38.3 113.8)"/><ellipse cx="109.6" cy="57.4" rx="1.92" ry="1.86" fill="#e26c92" transform="rotate(107 109.6 57.4)"/><ellipse cx="58.7" cy="124.2" rx="1.36" ry="1.48" fill="#e67698" transform="rotate(89 58.7 124.2)"/><ellipse cx="51.2" cy="114.7" rx="1.59" ry="1.62" fill="#e67698" transform="rotate(7 51.2 114.7)"/><ellipse cx="93.3" cy="103.3" rx="1.53" ry="1.39" fill="#ee8ea4" transform="rotate(141 93.3 103.3)"/><ellipse cx="63.4" cy="116.5" rx="2.01" ry="1.45" fill="#ee8ea4" transform="rotate(93 63.4 116.5)"/><ellipse cx="96.5" cy="22.4" rx="1.14" ry="1.52" fill="#e67698" transform="rotate(96 96.5 22.4)"/><ellipse cx="38.4" cy="106.8" rx="1.42" ry="1.53" fill="#e26c92" transform="rotate(7 38.4 106.8)"/><ellipse cx="99.5" cy="30.9" rx="1.99" ry="1.92" fill="#ee8ea4" transform="rotate(155 99.5 30.9)"/><ellipse cx="88.9" cy="20.5" rx="1.99" ry="3.63" fill="#ee8ea4" transform="rotate(409 88.9 20.5)"/><ellipse cx="110.1" cy="87.4" rx="1.61" ry="1.73" fill="#ee8ea4" transform="rotate(164 110.1 87.4)"/><ellipse cx="92.5" cy="105.4" rx="1.46" ry="1.49" fill="#e26c92" transform="rotate(77 92.5 105.4)"/><ellipse cx="57.2" cy="113.1" rx="1.95" ry="1.49" fill="#ea829e" transform="rotate(176 57.2 113.1)"/><ellipse cx="113.9" cy="64.3" rx="2.07" ry="1.64" fill="#d65488" transform="rotate(128 113.9 64.3)"/><ellipse cx="91.6" cy="108.0" rx="1.08" ry="1.82" fill="#dc5a8a" transform="rotate(100 91.6 108.0)"/><ellipse cx="34.3" cy="18.0" rx="1.54" ry="1.25" fill="#ea829e" transform="rotate(158 34.3 18.0)"/><ellipse cx="94.0" cy="103.1" rx="1.57" ry="1.67" fill="#ca4c86" transform="rotate(165 94.0 103.1)"/><ellipse cx="92.3" cy="102.9" rx="1.66" ry="1.45" fill="#d05086" transform="rotate(47 92.3 102.9)"/><ellipse cx="19.0" cy="59.9" rx="1.01" ry="1.72" fill="#e26c92" transform="rotate(24 19.0 59.9)"/><ellipse cx="111.1" cy="71.0" rx="1.16" ry="2.51" fill="#ee8ea4" transform="rotate(43 111.1 71.0)"/><ellipse cx="96.6" cy="28.9" rx="2.01" ry="1.39" fill="#ea829e" transform="rotate(10 96.6 28.9)"/><ellipse cx="93.4" cy="111.3" rx="1.15" ry="1.25" fill="#ee8ea4" transform="rotate(148 93.4 111.3)"/><ellipse cx="94.1" cy="106.0" rx="1.16" ry="1.50" fill="#ca4c86" transform="rotate(143 94.1 106.0)"/><ellipse cx="24.6" cy="103.3" rx="0.94" ry="1.61" fill="#ca4c86" transform="rotate(93 24.6 103.3)"/><ellipse cx="19.3" cy="34.8" rx="1.34" ry="1.23" fill="#dc5a8a" transform="rotate(34 19.3 34.8)"/><ellipse cx="36.8" cy="21.6" rx="1.23" ry="2.17" fill="#ea829e" transform="rotate(58 36.8 21.6)"/><ellipse cx="109.3" cy="89.0" rx="1.65" ry="2.09" fill="#d65488" transform="rotate(50 109.3 89.0)"/><ellipse cx="86.6" cy="107.0" rx="1.44" ry="1.16" fill="#ca4c86" transform="rotate(57 86.6 107.0)"/><ellipse cx="103.5" cy="82.0" rx="2.07" ry="1.56" fill="#ca4c86" transform="rotate(52 103.5 82.0)"/><ellipse cx="38.3" cy="15.5" rx="1.53" ry="2.06" fill="#d05086" transform="rotate(341 38.3 15.5)"/><ellipse cx="22.0" cy="25.9" rx="1.66" ry="1.33" fill="#ca4c86" transform="rotate(51 22.0 25.9)"/><ellipse cx="56.6" cy="12.3" rx="1.56" ry="3.22" fill="#dc5a8a" transform="rotate(361 56.6 12.3)"/><ellipse cx="12.6" cy="89.4" rx="0.73" ry="1.77" fill="#ea829e" transform="rotate(31 12.6 89.4)"/><ellipse cx="115.8" cy="77.0" rx="1.76" ry="2.61" fill="#d65488" transform="rotate(43 115.8 77.0)"/><ellipse cx="77.3" cy="18.0" rx="1.96" ry="3.17" fill="#ee8ea4" transform="rotate(374 77.3 18.0)"/><ellipse cx="105.6" cy="83.3" rx="1.46" ry="1.41" fill="#dc5a8a" transform="rotate(171 105.6 83.3)"/><ellipse cx="79.4" cy="115.7" rx="1.11" ry="1.38" fill="#ca4c86" transform="rotate(142 79.4 115.7)"/><ellipse cx="107.1" cy="94.0" rx="1.21" ry="2.33" fill="#dc5a8a" transform="rotate(79 107.1 94.0)"/><ellipse cx="31.8" cy="105.1" rx="1.48" ry="1.27" fill="#dc5a8a" transform="rotate(164 31.8 105.1)"/><ellipse cx="45.6" cy="111.3" rx="1.15" ry="1.25" fill="#e67698" transform="rotate(87 45.6 111.3)"/><ellipse cx="70.8" cy="15.9" rx="1.46" ry="2.98" fill="#ee8ea4" transform="rotate(358 70.8 15.9)"/><ellipse cx="102.7" cy="90.2" rx="1.40" ry="1.43" fill="#d05086" transform="rotate(9 102.7 90.2)"/><ellipse cx="76.5" cy="112.1" rx="1.01" ry="1.59" fill="#ca4c86" transform="rotate(68 76.5 112.1)"/><ellipse cx="67.3" cy="19.2" rx="2.19" ry="2.25" fill="#dc5a8a" transform="rotate(364 67.3 19.2)"/><ellipse cx="55.3" cy="12.5" rx="2.07" ry="2.70" fill="#e26c92" transform="rotate(343 55.3 12.5)"/><ellipse cx="47.0" cy="108.3" rx="1.26" ry="1.16" fill="#dc5a8a" transform="rotate(5 47.0 108.3)"/><ellipse cx="106.0" cy="80.3" rx="2.09" ry="2.62" fill="#dc5a8a" transform="rotate(42 106.0 80.3)"/><ellipse cx="18.8" cy="87.0" rx="0.68" ry="1.55" fill="#e26c92" transform="rotate(131 18.8 87.0)"/><ellipse cx="101.7" cy="93.7" rx="1.92" ry="1.95" fill="#ea829e" transform="rotate(143 101.7 93.7)"/><ellipse cx="13.8" cy="77.7" rx="1.36" ry="1.95" fill="#ee8ea4" transform="rotate(175 13.8 77.7)"/><ellipse cx="113.0" cy="76.2" rx="2.11" ry="1.87" fill="#d05086" transform="rotate(36 113.0 76.2)"/><ellipse cx="83.3" cy="18.1" rx="2.03" ry="3.43" fill="#ca4c86" transform="rotate(378 83.3 18.1)"/><ellipse cx="62.7" cy="124.9" rx="1.85" ry="1.81" fill="#ea829e" transform="rotate(63 62.7 124.9)"/><ellipse cx="90.9" cy="103.3" rx="1.00" ry="1.57" fill="#e67698" transform="rotate(162 90.9 103.3)"/><ellipse cx="78.4" cy="117.5" rx="1.66" ry="2.09" fill="#d65488" transform="rotate(144 78.4 117.5)"/><ellipse cx="30.4" cy="98.0" rx="1.20" ry="1.10" fill="#ea829e" transform="rotate(4 30.4 98.0)"/><ellipse cx="39.9" cy="16.1" rx="1.80" ry="3.00" fill="#ea829e" transform="rotate(332 39.9 16.1)"/><ellipse cx="74.0" cy="12.2" rx="1.85" ry="2.13" fill="#e26c92" transform="rotate(388 74.0 12.2)"/><ellipse cx="17.8" cy="58.2" rx="0.75" ry="1.30" fill="#ea829e" transform="rotate(55 17.8 58.2)"/><ellipse cx="103.8" cy="43.6" rx="1.20" ry="2.36" fill="#e67698" transform="rotate(161 103.8 43.6)"/><ellipse cx="41.8" cy="12.4" rx="1.89" ry="2.39" fill="#d65488" transform="rotate(357 41.8 12.4)"/><ellipse cx="65.9" cy="124.6" rx="1.34" ry="1.12" fill="#ea829e" transform="rotate(68 65.9 124.6)"/><ellipse cx="62.3" cy="14.2" rx="1.95" ry="2.60" fill="#ca4c86" transform="rotate(341 62.3 14.2)"/><ellipse cx="43.3" cy="15.3" rx="1.68" ry="3.61" fill="#d05086" transform="rotate(328 43.3 15.3)"/><ellipse cx="77.9" cy="9.9" rx="2.20" ry="2.16" fill="#ea829e" transform="rotate(390 77.9 9.9)"/><ellipse cx="69.3" cy="112.9" rx="1.83" ry="2.11" fill="#ea829e" transform="rotate(75 69.3 112.9)"/><ellipse cx="47.6" cy="110.3" rx="1.98" ry="1.33" fill="#dc5a8a" transform="rotate(27 47.6 110.3)"/><ellipse cx="48.5" cy="114.1" rx="1.38" ry="1.49" fill="#d65488" transform="rotate(116 48.5 114.1)"/><ellipse cx="43.0" cy="13.3" rx="1.78" ry="3.52" fill="#d65488" transform="rotate(329 43.0 13.3)"/><ellipse cx="69.0" cy="120.6" rx="1.43" ry="1.23" fill="#d05086" transform="rotate(121 69.0 120.6)"/><ellipse cx="97.5" cy="96.7" rx="1.75" ry="1.77" fill="#ee8ea4" transform="rotate(133 97.5 96.7)"/><ellipse cx="84.1" cy="11.9" rx="2.17" ry="3.74" fill="#d65488" transform="rotate(377 84.1 11.9)"/><ellipse cx="80.8" cy="18.0" rx="1.50" ry="3.62" fill="#d65488" transform="rotate(370 80.8 18.0)"/><ellipse cx="106.6" cy="46.5" rx="2.22" ry="2.64" fill="#e26c92" transform="rotate(123 106.6 46.5)"/><ellipse cx="108.1" cy="88.7" rx="1.45" ry="1.50" fill="#ee8ea4" transform="rotate(180 108.1 88.7)"/><ellipse cx="62.3" cy="17.8" rx="1.47" ry="3.64" fill="#d65488" transform="rotate(364 62.3 17.8)"/><ellipse cx="49.0" cy="111.7" rx="1.48" ry="1.18" fill="#ea829e" transform="rotate(177 49.0 111.7)"/><ellipse cx="55.2" cy="119.8" rx="1.98" ry="1.74" fill="#ea829e" transform="rotate(177 55.2 119.8)"/><ellipse cx="100.8" cy="91.7" rx="1.13" ry="2.38" fill="#ca4c86" transform="rotate(146 100.8 91.7)"/><ellipse cx="80.0" cy="116.7" rx="1.48" ry="2.19" fill="#ee8ea4" transform="rotate(91 80.0 116.7)"/><ellipse cx="108.3" cy="81.9" rx="1.61" ry="2.14" fill="#dc5a8a" transform="rotate(39 108.3 81.9)"/><ellipse cx="84.4" cy="17.1" rx="1.36" ry="3.48" fill="#e26c92" transform="rotate(406 84.4 17.1)"/><ellipse cx="93.0" cy="109.2" rx="1.99" ry="2.24" fill="#d05086" transform="rotate(71 93.0 109.2)"/><ellipse cx="78.4" cy="109.3" rx="0.90" ry="1.83" fill="#e26c92" transform="rotate(136 78.4 109.3)"/><ellipse cx="106.4" cy="89.7" rx="1.58" ry="1.55" fill="#dc5a8a" transform="rotate(135 106.4 89.7)"/><ellipse cx="15.3" cy="66.8" rx="1.09" ry="0.98" fill="#ca4c86" transform="rotate(169 15.3 66.8)"/><ellipse cx="108.9" cy="74.7" rx="1.42" ry="2.36" fill="#ca4c86" transform="rotate(60 108.9 74.7)"/><ellipse cx="100.5" cy="31.9" rx="1.24" ry="1.88" fill="#e67698" transform="rotate(66 100.5 31.9)"/><ellipse cx="65.0" cy="120.0" rx="1.51" ry="1.94" fill="#e26c92" transform="rotate(43 65.0 120.0)"/><ellipse cx="39.3" cy="23.8" rx="1.13" ry="1.38" fill="#d05086" transform="rotate(143 39.3 23.8)"/><ellipse cx="108.8" cy="83.2" rx="1.55" ry="1.81" fill="#dc5a8a" transform="rotate(100 108.8 83.2)"/><ellipse cx="19.7" cy="82.9" rx="1.49" ry="1.53" fill="#e67698" transform="rotate(128 19.7 82.9)"/><ellipse cx="104.2" cy="88.6" rx="1.71" ry="1.87" fill="#e67698" transform="rotate(147 104.2 88.6)"/><ellipse cx="28.1" cy="102.0" rx="0.73" ry="0.90" fill="#d05086" transform="rotate(102 28.1 102.0)"/><ellipse cx="113.7" cy="79.8" rx="2.11" ry="1.85" fill="#ca4c86" transform="rotate(47 113.7 79.8)"/><ellipse cx="53.7" cy="119.8" rx="1.19" ry="2.05" fill="#e67698" transform="rotate(70 53.7 119.8)"/><ellipse cx="29.8" cy="28.7" rx="1.88" ry="1.61" fill="#e26c92" transform="rotate(107 29.8 28.7)"/><ellipse cx="13.2" cy="42.0" rx="1.04" ry="1.63" fill="#ee8ea4" transform="rotate(121 13.2 42.0)"/><ellipse cx="36.0" cy="26.8" rx="1.36" ry="1.72" fill="#ee8ea4" transform="rotate(110 36.0 26.8)"/><ellipse cx="71.9" cy="122.6" rx="0.97" ry="1.89" fill="#d65488" transform="rotate(8 71.9 122.6)"/><ellipse cx="52.2" cy="16.7" rx="1.83" ry="3.52" fill="#e67698" transform="rotate(329 52.2 16.7)"/><ellipse cx="63.4" cy="17.0" rx="1.35" ry="3.38" fill="#ee8ea4" transform="rotate(360 63.4 17.0)"/><ellipse cx="87.8" cy="105.4" rx="1.96" ry="1.35" fill="#d65488" transform="rotate(27 87.8 105.4)"/><ellipse cx="112.8" cy="62.7" rx="1.70" ry="1.88" fill="#d05086" transform="rotate(25 112.8 62.7)"/><ellipse cx="11.2" cy="67.8" rx="1.19" ry="1.92" fill="#e26c92" transform="rotate(78 11.2 67.8)"/><ellipse cx="71.9" cy="114.0" rx="1.52" ry="1.40" fill="#ca4c86" transform="rotate(53 71.9 114.0)"/><ellipse cx="97.5" cy="95.2" rx="2.12" ry="1.70" fill="#d65488" transform="rotate(172 97.5 95.2)"/><ellipse cx="100.0" cy="101.2" rx="1.01" ry="1.83" fill="#e26c92" transform="rotate(9 100.0 101.2)"/><ellipse cx="108.0" cy="56.2" rx="1.93" ry="1.70" fill="#ea829e" transform="rotate(154 108.0 56.2)"/><ellipse cx="96.5" cy="31.4" rx="1.50" ry="2.69" fill="#ea829e" transform="rotate(11 96.5 31.4)"/><ellipse cx="75.8" cy="8.6" rx="1.44" ry="2.77" fill="#d05086" transform="rotate(371 75.8 8.6)"/><ellipse cx="107.2" cy="45.5" rx="1.89" ry="1.78" fill="#ca4c86" transform="rotate(170 107.2 45.5)"/><ellipse cx="98.5" cy="99.0" rx="2.00" ry="1.73" fill="#ea829e" transform="rotate(21 98.5 99.0)"/><ellipse cx="45.9" cy="111.5" rx="0.94" ry="2.11" fill="#e26c92" transform="rotate(69 45.9 111.5)"/><ellipse cx="26.3" cy="22.1" rx="1.81" ry="1.71" fill="#e26c92" transform="rotate(55 26.3 22.1)"/><ellipse cx="93.2" cy="22.6" rx="1.74" ry="2.42" fill="#e67698" transform="rotate(51 93.2 22.6)"/><ellipse cx="60.5" cy="17.3" rx="2.03" ry="3.10" fill="#e26c92" transform="rotate(363 60.5 17.3)"/><ellipse cx="17.6" cy="81.8" rx="1.25" ry="1.70" fill="#e67698" transform="rotate(112 17.6 81.8)"/><ellipse cx="90.4" cy="27.1" rx="1.24" ry="2.13" fill="#e67698" transform="rotate(113 90.4 27.1)"/><ellipse cx="46.0" cy="14.6" rx="1.53" ry="2.06" fill="#ee8ea4" transform="rotate(348 46.0 14.6)"/><ellipse cx="94.3" cy="102.7" rx="1.99" ry="1.27" fill="#d05086" transform="rotate(136 94.3 102.7)"/><ellipse cx="56.3" cy="20.0" rx="1.63" ry="3.55" fill="#e67698" transform="rotate(348 56.3 20.0)"/><ellipse cx="89.2" cy="17.7" rx="2.00" ry="2.92" fill="#dc5a8a" transform="rotate(375 89.2 17.7)"/><ellipse cx="69.1" cy="9.9" rx="1.83" ry="2.88" fill="#d65488" transform="rotate(380 69.1 9.9)"/><ellipse cx="84.1" cy="106.9" rx="1.64" ry="1.57" fill="#d65488" transform="rotate(69 84.1 106.9)"/><ellipse cx="33.6" cy="25.9" rx="0.91" ry="1.86" fill="#d65488" transform="rotate(134 33.6 25.9)"/><ellipse cx="14.8" cy="63.6" rx="1.33" ry="1.32" fill="#ee8ea4" transform="rotate(141 14.8 63.6)"/><ellipse cx="54.5" cy="10.4" rx="1.35" ry="2.78" fill="#ee8ea4" transform="rotate(327 54.5 10.4)"/><ellipse cx="66.5" cy="18.2" rx="1.74" ry="3.46" fill="#ee8ea4" transform="rotate(355 66.5 18.2)"/><ellipse cx="107.7" cy="89.4" rx="1.81" ry="1.97" fill="#d05086" transform="rotate(4 107.7 89.4)"/><ellipse cx="102.2" cy="26.9" rx="1.20" ry="1.80" fill="#d65488" transform="rotate(96 102.2 26.9)"/><ellipse cx="96.5" cy="33.6" rx="1.16" ry="1.42" fill="#d05086" transform="rotate(131 96.5 33.6)"/><ellipse cx="102.1" cy="31.5" rx="1.57" ry="1.95" fill="#ea829e" transform="rotate(173 102.1 31.5)"/><ellipse cx="54.7" cy="117.2" rx="1.67" ry="2.06" fill="#e67698" transform="rotate(137 54.7 117.2)"/><ellipse cx="98.4" cy="23.9" rx="1.59" ry="2.23" fill="#ee8ea4" transform="rotate(132 98.4 23.9)"/><ellipse cx="76.7" cy="115.7" rx="1.87" ry="1.17" fill="#e26c92" transform="rotate(66 76.7 115.7)"/><ellipse cx="102.4" cy="94.0" rx="1.28" ry="1.73" fill="#dc5a8a" transform="rotate(98 102.4 94.0)"/><ellipse cx="47.3" cy="9.9" rx="1.97" ry="2.86" fill="#ca4c86" transform="rotate(355 47.3 9.9)"/><ellipse cx="98.5" cy="30.8" rx="2.23" ry="2.32" fill="#ca4c86" transform="rotate(136 98.5 30.8)"/><ellipse cx="9.4" cy="72.8" rx="1.50" ry="1.58" fill="#ea829e" transform="rotate(31 9.4 72.8)"/><ellipse cx="68.3" cy="116.1" rx="0.98" ry="1.72" fill="#d05086" transform="rotate(15 68.3 116.1)"/><ellipse cx="35.5" cy="23.1" rx="1.26" ry="1.32" fill="#ca4c86" transform="rotate(154 35.5 23.1)"/><ellipse cx="70.6" cy="15.4" rx="1.46" ry="2.95" fill="#d65488" transform="rotate(384 70.6 15.4)"/><ellipse cx="96.8" cy="25.9" rx="1.67" ry="2.53" fill="#d05086" transform="rotate(80 96.8 25.9)"/><ellipse cx="89.2" cy="105.2" rx="0.98" ry="1.88" fill="#d05086" transform="rotate(159 89.2 105.2)"/><ellipse cx="87.2" cy="17.1" rx="1.68" ry="2.76" fill="#e26c92" transform="rotate(382 87.2 17.1)"/><ellipse cx="103.2" cy="49.0" rx="1.36" ry="2.26" fill="#ee8ea4" transform="rotate(59 103.2 49.0)"/><ellipse cx="86.4" cy="17.8" rx="2.21" ry="3.28" fill="#dc5a8a" transform="rotate(394 86.4 17.8)"/><ellipse cx="97.9" cy="33.0" rx="2.12" ry="2.05" fill="#d65488" transform="rotate(152 97.9 33.0)"/><ellipse cx="17.8" cy="42.7" rx="1.59" ry="1.58" fill="#ea829e" transform="rotate(22 17.8 42.7)"/><ellipse cx="105.7" cy="84.4" rx="2.00" ry="1.91" fill="#d65488" transform="rotate(32 105.7 84.4)"/><ellipse cx="12.4" cy="83.6" rx="0.77" ry="1.74" fill="#dc5a8a" transform="rotate(12 12.4 83.6)"/><ellipse cx="105.0" cy="90.5" rx="1.86" ry="1.39" fill="#ee8ea4" transform="rotate(53 105.0 90.5)"/><ellipse cx="18.0" cy="44.9" rx="1.42" ry="1.16" fill="#ca4c86" transform="rotate(85 18.0 44.9)"/><ellipse cx="41.6" cy="111.6" rx="1.89" ry="1.54" fill="#ca4c86" transform="rotate(170 41.6 111.6)"/><ellipse cx="105.8" cy="46.4" rx="2.24" ry="1.52" fill="#ee8ea4" transform="rotate(64 105.8 46.4)"/><ellipse cx="84.5" cy="116.6" rx="1.66" ry="1.48" fill="#d05086" transform="rotate(111 84.5 116.6)"/><ellipse cx="15.0" cy="85.7" rx="0.93" ry="0.94" fill="#d05086" transform="rotate(119 15.0 85.7)"/><ellipse cx="64.1" cy="119.2" rx="1.46" ry="2.13" fill="#e67698" transform="rotate(18 64.1 119.2)"/><ellipse cx="38.0" cy="107.2" rx="0.91" ry="1.34" fill="#dc5a8a" transform="rotate(49 38.0 107.2)"/><ellipse cx="20.4" cy="57.5" rx="1.56" ry="1.78" fill="#d05086" transform="rotate(66 20.4 57.5)"/><ellipse cx="115.0" cy="70.8" rx="1.24" ry="2.28" fill="#d65488" transform="rotate(45 115.0 70.8)"/><ellipse cx="58.9" cy="10.2" rx="2.05" ry="2.48" fill="#e26c92" transform="rotate(370 58.9 10.2)"/><ellipse cx="46.2" cy="110.9" rx="1.98" ry="2.06" fill="#e67698" transform="rotate(85 46.2 110.9)"/><ellipse cx="67.2" cy="113.5" rx="1.74" ry="2.18" fill="#d05086" transform="rotate(69 67.2 113.5)"/><ellipse cx="19.6" cy="42.4" rx="1.19" ry="1.63" fill="#d65488" transform="rotate(133 19.6 42.4)"/><ellipse cx="103.7" cy="42.0" rx="1.81" ry="1.35" fill="#dc5a8a" transform="rotate(107 103.7 42.0)"/><ellipse cx="41.9" cy="109.1" rx="1.61" ry="2.08" fill="#e67698" transform="rotate(82 41.9 109.1)"/><ellipse cx="42.2" cy="15.2" rx="2.16" ry="3.03" fill="#d65488" transform="rotate(323 42.2 15.2)"/><ellipse cx="76.2" cy="117.0" rx="1.21" ry="1.94" fill="#d05086" transform="rotate(137 76.2 117.0)"/><ellipse cx="86.2" cy="111.1" rx="1.84" ry="1.79" fill="#d05086" transform="rotate(157 86.2 111.1)"/><ellipse cx="26.7" cy="25.0" rx="1.11" ry="1.64" fill="#d65488" transform="rotate(122 26.7 25.0)"/><ellipse cx="106.0" cy="62.4" rx="1.31" ry="1.56" fill="#e67698" transform="rotate(68 106.0 62.4)"/><ellipse cx="90.3" cy="16.1" rx="1.65" ry="2.37" fill="#d05086" transform="rotate(404 90.3 16.1)"/><ellipse cx="82.7" cy="112.2" rx="1.70" ry="1.43" fill="#e67698" transform="rotate(14 82.7 112.2)"/><ellipse cx="31.7" cy="108.5" rx="0.92" ry="1.38" fill="#e67698" transform="rotate(145 31.7 108.5)"/><ellipse cx="23.8" cy="103.8" rx="1.03" ry="2.00" fill="#ea829e" transform="rotate(120 23.8 103.8)"/><ellipse cx="53.4" cy="14.8" rx="2.04" ry="3.73" fill="#dc5a8a" transform="rotate(335 53.4 14.8)"/><ellipse cx="68.3" cy="16.3" rx="1.50" ry="2.79" fill="#e26c92" transform="rotate(389 68.3 16.3)"/><ellipse cx="48.7" cy="12.4" rx="1.55" ry="3.12" fill="#dc5a8a" transform="rotate(334 48.7 12.4)"/><ellipse cx="109.2" cy="58.7" rx="2.07" ry="1.58" fill="#ee8ea4" transform="rotate(87 109.2 58.7)"/><ellipse cx="11.7" cy="68.0" rx="0.88" ry="1.69" fill="#d05086" transform="rotate(172 11.7 68.0)"/><ellipse cx="105.8" cy="92.2" rx="1.73" ry="2.41" fill="#e26c92" transform="rotate(2 105.8 92.2)"/><ellipse cx="45.7" cy="13.1" rx="1.45" ry="2.10" fill="#d65488" transform="rotate(358 45.7 13.1)"/><ellipse cx="18.7" cy="82.8" rx="0.69" ry="1.78" fill="#ea829e" transform="rotate(96 18.7 82.8)"/><ellipse cx="36.9" cy="17.6" rx="1.99" ry="3.76" fill="#ee8ea4" transform="rotate(331 36.9 17.6)"/><ellipse cx="92.9" cy="18.2" rx="1.98" ry="2.14" fill="#dc5a8a" transform="rotate(90 92.9 18.2)"/><ellipse cx="54.1" cy="114.2" rx="1.17" ry="1.87" fill="#ee8ea4" transform="rotate(161 54.1 114.2)"/><ellipse cx="14.4" cy="72.3" rx="1.00" ry="0.90" fill="#d65488" transform="rotate(142 14.4 72.3)"/><ellipse cx="65.9" cy="116.5" rx="1.92" ry="1.98" fill="#e67698" transform="rotate(19 65.9 116.5)"/><ellipse cx="19.2" cy="47.1" rx="1.60" ry="1.17" fill="#d65488" transform="rotate(18 19.2 47.1)"/><ellipse cx="70.7" cy="115.5" rx="1.38" ry="1.85" fill="#ea829e" transform="rotate(1 70.7 115.5)"/><ellipse cx="58.8" cy="124.3" rx="1.72" ry="2.03" fill="#dc5a8a" transform="rotate(57 58.8 124.3)"/><ellipse cx="20.4" cy="47.1" rx="1.60" ry="1.53" fill="#e67698" transform="rotate(50 20.4 47.1)"/><ellipse cx="11.6" cy="87.4" rx="1.10" ry="1.73" fill="#ee8ea4" transform="rotate(18 11.6 87.4)"/><ellipse cx="99.7" cy="97.9" rx="1.69" ry="1.87" fill="#d05086" transform="rotate(121 99.7 97.9)"/><ellipse cx="38.7" cy="18.0" rx="1.48" ry="2.07" fill="#d65488" transform="rotate(338 38.7 18.0)"/><ellipse cx="15.9" cy="94.7" rx="1.18" ry="1.90" fill="#ee8ea4" transform="rotate(47 15.9 94.7)"/><ellipse cx="69.4" cy="118.0" rx="1.20" ry="1.81" fill="#e67698" transform="rotate(178 69.4 118.0)"/><ellipse cx="15.2" cy="87.4" rx="0.72" ry="1.09" fill="#d05086" transform="rotate(77 15.2 87.4)"/><ellipse cx="88.6" cy="18.3" rx="1.56" ry="2.13" fill="#ea829e" transform="rotate(375 88.6 18.3)"/><ellipse cx="10.2" cy="67.7" rx="1.52" ry="1.87" fill="#ee8ea4" transform="rotate(21 10.2 67.7)"/><ellipse cx="17.3" cy="74.4" rx="1.27" ry="1.30" fill="#d05086" transform="rotate(13 17.3 74.4)"/><ellipse cx="43.3" cy="21.6" rx="1.66" ry="2.33" fill="#d05086" transform="rotate(329 43.3 21.6)"/><ellipse cx="19.5" cy="93.3" rx="1.42" ry="1.14" fill="#e26c92" transform="rotate(135 19.5 93.3)"/><ellipse cx="101.8" cy="45.8" rx="1.23" ry="1.61" fill="#ea829e" transform="rotate(136 101.8 45.8)"/><ellipse cx="24.8" cy="29.8" rx="1.38" ry="1.34" fill="#d05086" transform="rotate(71 24.8 29.8)"/><ellipse cx="18.2" cy="45.0" rx="1.15" ry="1.30" fill="#ca4c86" transform="rotate(50 18.2 45.0)"/><ellipse cx="71.7" cy="13.3" rx="2.14" ry="3.68" fill="#dc5a8a" transform="rotate(384 71.7 13.3)"/><ellipse cx="41.7" cy="105.6" rx="1.98" ry="1.22" fill="#e26c92" transform="rotate(109 41.7 105.6)"/><ellipse cx="7.9" cy="74.6" rx="1.38" ry="1.94" fill="#dc5a8a" transform="rotate(142 7.9 74.6)"/><ellipse cx="51.3" cy="17.9" rx="1.49" ry="2.06" fill="#ca4c86" transform="rotate(356 51.3 17.9)"/><ellipse cx="68.7" cy="9.9" rx="1.85" ry="3.71" fill="#d65488" transform="rotate(377 68.7 9.9)"/><ellipse cx="72.7" cy="122.7" rx="1.55" ry="1.84" fill="#e67698" transform="rotate(126 72.7 122.7)"/><ellipse cx="75.9" cy="113.8" rx="1.58" ry="1.66" fill="#ea829e" transform="rotate(133 75.9 113.8)"/><ellipse cx="42.4" cy="107.8" rx="1.99" ry="1.86" fill="#ee8ea4" transform="rotate(110 42.4 107.8)"/><ellipse cx="69.5" cy="16.3" rx="2.06" ry="2.17" fill="#d65488" transform="rotate(374 69.5 16.3)"/><ellipse cx="111.0" cy="57.6" rx="2.23" ry="2.01" fill="#ea829e" transform="rotate(7 111.0 57.6)"/><ellipse cx="23.2" cy="34.1" rx="1.19" ry="2.07" fill="#d05086" transform="rotate(106 23.2 34.1)"/><ellipse cx="95.3" cy="59.8" rx="2.69" ry="2.02" fill="#d65488" transform="rotate(0 95.3 59.8)"/><ellipse cx="82.1" cy="95.4" rx="2.69" ry="2.24" fill="#ee8ea4" transform="rotate(0 82.1 95.4)"/><ellipse cx="74.8" cy="91.2" rx="1.35" ry="1.35" fill="#e26c92" transform="rotate(0 74.8 91.2)"/><ellipse cx="15.4" cy="84.1" rx="3.14" ry="2.69" fill="#d65488" transform="rotate(0 15.4 84.1)"/><ellipse cx="22.0" cy="37.9" rx="2.24" ry="1.79" fill="#ca4c86" transform="rotate(0 22.0 37.9)"/><ellipse cx="27.3" cy="36.6" rx="2.02" ry="1.57" fill="#e67698" transform="rotate(0 27.3 36.6)"/><ellipse cx="41.8" cy="110.5" rx="2.69" ry="2.47" fill="#e26c92" transform="rotate(0 41.8 110.5)"/><ellipse cx="82.7" cy="111.8" rx="2.92" ry="2.47" fill="#d05086" transform="rotate(0 82.7 111.8)"/><ellipse cx="18.0" cy="49.8" rx="1.57" ry="1.35" fill="#dc5a8a" transform="rotate(0 18.0 49.8)"/><ellipse cx="110.4" cy="74.9" rx="3.59" ry="3.14" fill="#ea829e" transform="rotate(0 110.4 74.9)"/><ellipse cx="111.7" cy="36.6" rx="3.14" ry="2.24" fill="#d65488" transform="rotate(0 111.7 36.6)"/><ellipse cx="52.3" cy="111.8" rx="1.57" ry="1.79" fill="#e26c92" transform="rotate(0 52.3 111.8)"/><ellipse cx="49.7" cy="102.6" rx="1.35" ry="1.35" fill="#ee8ea4" transform="rotate(0 49.7 102.6)"/><ellipse cx="28.6" cy="88.0" rx="1.12" ry="1.12" fill="#d65488" transform="rotate(0 28.6 88.0)"/></g>
<path d="M121.6 85 C120.5 95 118 104 116.9 109 C115.5 115 114.5 120 114 125" fill="none" stroke="#f09a98" stroke-width="1.4" filter="url(#b0)"/>
<g filter="url(#b1)"><ellipse cx="123.9" cy="89.5" rx="1.4" ry="4.2" fill="#e0608e"/><ellipse cx="123.2" cy="114.5" rx="2.4" ry="3.6" fill="#e0608e"/><ellipse cx="121" cy="100" rx="1.2" ry="1.5" fill="#ec90a0"/></g>
<path d="M111.7 -0.1C112.6 0.1 115.2 0.7 117.0 1.0C118.7 1.2 120.7 1.2 122.2 1.5C123.8 1.8 125.5 2.4 126.2 2.6" fill="none" stroke="#e88aa0" stroke-width="1.6" filter="url(#b1)"/>
</g>
<g transform="translate(521.9,233.9)" clip-path="url(#cBR)">
<rect width="124.1" height="127.7" fill="url(#gBR)"/>
<path d="M120.9 63.4C121.1 65.7 120.8 68.0 120.3 70.2C119.9 72.4 118.9 74.5 118.1 76.6C117.3 78.7 116.5 80.7 115.7 82.7C114.8 84.7 114.1 86.8 113.0 88.7C112.0 90.6 110.8 92.4 109.5 94.1C108.2 95.8 106.6 97.2 105.2 98.8C103.8 100.3 102.4 101.8 101.1 103.6C99.9 105.3 98.9 107.4 97.7 109.3C96.4 111.2 95.3 113.5 93.7 115.1C92.1 116.7 90.1 118.0 88.0 118.7C85.9 119.4 83.4 119.3 81.1 119.3C78.9 119.2 76.5 118.5 74.3 118.4C72.2 118.3 70.2 118.4 68.2 118.7C66.2 119.1 64.2 120.0 62.2 120.6C60.1 121.1 57.9 121.9 55.7 122.1C53.6 122.3 51.4 122.1 49.3 121.6C47.2 121.2 45.1 120.3 43.1 119.5C41.1 118.7 39.1 117.8 37.2 116.9C35.2 115.9 33.2 115.0 31.5 113.7C29.7 112.4 28.1 110.9 26.7 109.3C25.3 107.6 24.3 105.5 23.1 103.7C22.0 101.8 21.1 99.9 19.9 98.2C18.6 96.5 17.1 95.2 15.4 93.7C13.8 92.2 11.6 91.0 10.0 89.3C8.4 87.7 6.6 85.8 5.8 83.8C4.9 81.7 4.6 79.3 4.7 77.0C4.7 74.7 5.6 72.2 6.0 70.0C6.5 67.7 7.2 65.6 7.4 63.4C7.7 61.3 7.6 59.2 7.6 57.1C7.6 55.0 7.3 52.7 7.5 50.6C7.6 48.4 8.0 46.2 8.6 44.1C9.1 42.0 10.0 40.0 10.8 38.0C11.6 35.9 12.5 33.9 13.4 31.9C14.4 29.9 15.2 27.7 16.5 25.9C17.7 24.1 19.2 22.3 20.9 20.9C22.6 19.6 24.9 18.7 26.9 17.9C29.0 17.1 31.3 16.9 33.3 16.1C35.3 15.4 37.1 14.6 38.8 13.4C40.5 12.2 41.9 10.5 43.7 9.0C45.4 7.5 47.1 5.6 49.1 4.5C51.1 3.4 53.3 2.7 55.5 2.6C57.7 2.5 60.0 3.1 62.2 3.7C64.3 4.3 66.4 5.3 68.5 6.0C70.5 6.6 72.5 7.2 74.5 7.7C76.5 8.2 78.6 8.6 80.6 9.2C82.6 9.9 84.5 10.6 86.4 11.6C88.3 12.5 90.0 13.7 91.9 14.8C93.7 15.8 95.5 16.9 97.4 17.9C99.3 18.9 101.5 19.8 103.3 21.0C105.2 22.3 107.2 23.6 108.6 25.3C109.9 27.1 110.9 29.3 111.5 31.5C112.1 33.7 112.0 36.3 112.2 38.6C112.4 40.9 112.3 43.1 112.8 45.2C113.4 47.2 114.3 49.0 115.3 51.0C116.3 52.9 117.8 54.8 118.8 56.9C119.7 58.9 120.6 61.2 120.9 63.4Z" fill="#fedc9e" stroke="#f4b48e" stroke-width="1.1" stroke-opacity="0.6" filter="url(#b1)"/>
<path d="M112.7 63.4C112.9 65.3 112.6 67.4 112.2 69.2C111.8 71.1 110.9 72.9 110.3 74.7C109.6 76.5 108.9 78.3 108.2 80.0C107.4 81.7 106.8 83.5 105.9 85.1C105.0 86.8 104.0 88.3 102.9 89.8C101.7 91.2 100.3 92.5 99.2 93.8C98.0 95.2 96.7 96.4 95.7 98.0C94.6 99.5 93.8 101.2 92.7 102.9C91.6 104.5 90.6 106.5 89.3 107.9C87.9 109.2 86.2 110.4 84.4 111.0C82.6 111.6 80.4 111.5 78.5 111.5C76.5 111.4 74.5 110.8 72.6 110.7C70.8 110.7 69.1 110.7 67.4 111.0C65.6 111.3 63.9 112.1 62.2 112.6C60.4 113.0 58.5 113.7 56.6 113.9C54.8 114.0 52.9 113.9 51.1 113.5C49.3 113.1 47.5 112.4 45.8 111.7C44.0 111.0 42.3 110.2 40.7 109.4C39.0 108.6 37.3 107.8 35.8 106.7C34.3 105.6 32.8 104.3 31.6 102.9C30.4 101.4 29.6 99.6 28.6 98.0C27.6 96.4 26.9 94.8 25.8 93.3C24.7 91.9 23.4 90.7 22.0 89.5C20.6 88.2 18.7 87.1 17.3 85.7C15.9 84.3 14.4 82.7 13.7 80.9C12.9 79.1 12.7 77.0 12.7 75.1C12.7 73.1 13.5 71.0 13.9 69.0C14.3 67.1 14.9 65.3 15.1 63.4C15.3 61.6 15.2 59.8 15.2 58.0C15.2 56.1 15.0 54.2 15.1 52.4C15.3 50.5 15.6 48.6 16.1 46.8C16.5 45.0 17.3 43.3 18.0 41.5C18.7 39.8 19.4 38.0 20.3 36.3C21.1 34.6 21.8 32.7 22.9 31.2C23.9 29.6 25.2 28.0 26.7 26.9C28.2 25.7 30.1 25.0 31.9 24.3C33.6 23.6 35.6 23.4 37.3 22.8C39.0 22.1 40.6 21.5 42.1 20.4C43.5 19.4 44.8 17.9 46.3 16.6C47.7 15.3 49.2 13.7 50.9 12.7C52.6 11.8 54.6 11.2 56.4 11.1C58.3 11.0 60.3 11.6 62.2 12.1C64.0 12.5 65.8 13.4 67.6 14.0C69.3 14.6 71.0 15.0 72.8 15.5C74.5 16.0 76.3 16.2 78.0 16.8C79.7 17.4 81.4 18.0 83.0 18.8C84.6 19.6 86.1 20.7 87.7 21.6C89.3 22.5 90.8 23.4 92.5 24.3C94.1 25.2 96.0 25.9 97.6 27.0C99.2 28.0 100.9 29.2 102.1 30.7C103.2 32.2 104.1 34.1 104.6 36.0C105.1 37.9 105.0 40.1 105.2 42.1C105.4 44.0 105.3 46.0 105.8 47.7C106.2 49.5 107.0 51.0 107.8 52.7C108.7 54.4 110.0 56.0 110.8 57.8C111.6 59.6 112.4 61.5 112.7 63.4Z" fill="#fdd9a0" stroke="#f2ae8e" stroke-width="0.9" stroke-opacity="0.5" filter="url(#b1)"/>
<path d="M102.3 64.8C102.6 66.9 102.8 69.1 102.6 71.3C102.5 73.4 102.1 75.5 101.5 77.6C100.8 79.6 99.8 81.7 98.7 83.6C97.5 85.5 96.1 87.4 94.6 89.2C93.2 90.9 91.5 92.6 89.9 94.1C88.3 95.6 86.7 97.1 85.0 98.3C83.4 99.6 81.7 100.7 80.0 101.7C78.3 102.7 76.5 103.6 74.6 104.2C72.7 104.9 70.6 105.4 68.6 105.7C66.5 106.1 64.3 106.3 62.2 106.3C60.0 106.3 57.8 106.1 55.8 105.7C53.7 105.4 51.7 104.9 49.8 104.2C47.9 103.6 46.1 102.7 44.3 101.7C42.6 100.7 40.9 99.6 39.3 98.3C37.6 97.1 36.0 95.6 34.4 94.1C32.8 92.6 31.1 90.9 29.7 89.2C28.2 87.4 26.8 85.5 25.6 83.6C24.5 81.7 23.5 79.6 22.8 77.6C22.2 75.5 21.8 73.4 21.7 71.3C21.5 69.1 21.7 66.9 22.0 64.8C22.3 62.6 22.8 60.4 23.4 58.3C23.9 56.1 24.5 54.0 25.1 52.0C25.8 49.9 26.4 47.9 27.2 45.9C27.9 44.0 28.7 42.1 29.7 40.4C30.7 38.6 31.8 37.0 33.2 35.4C34.5 33.9 36.1 32.5 37.9 31.2C39.6 29.9 41.6 28.8 43.6 27.8C45.5 26.8 47.7 26.0 49.8 25.3C51.8 24.7 54.0 24.1 56.0 23.8C58.1 23.5 60.1 23.3 62.2 23.3C64.2 23.3 66.2 23.5 68.3 23.8C70.4 24.1 72.5 24.7 74.6 25.3C76.6 26.0 78.8 26.8 80.8 27.8C82.8 28.8 84.7 29.9 86.5 31.2C88.2 32.5 89.8 33.9 91.1 35.4C92.5 37.0 93.6 38.6 94.6 40.4C95.6 42.1 96.4 44.0 97.2 45.9C97.9 47.9 98.6 49.9 99.2 52.0C99.8 54.0 100.4 56.1 101.0 58.3C101.5 60.4 102.0 62.6 102.3 64.8Z" fill="#fdd498" filter="url(#grain)"/>
<g filter="url(#b1)"><ellipse cx="96.1" cy="43.9" rx="3.21" ry="3.36" fill="#dc3a6e"/><ellipse cx="87.6" cy="96.9" rx="3.21" ry="2.75" fill="#cc2a62"/><ellipse cx="51.2" cy="22.0" rx="2.41" ry="2.25" fill="#d4245e"/><ellipse cx="56.0" cy="102.8" rx="2.14" ry="2.48" fill="#dc3a6e"/><ellipse cx="35.9" cy="100.4" rx="2.14" ry="2.00" fill="#d4245e"/><ellipse cx="6.0" cy="51.9" rx="2.14" ry="2.34" fill="#d4245e"/><ellipse cx="3.3" cy="47.4" rx="1.61" ry="1.74" fill="#d83068"/><ellipse cx="25.8" cy="71.5" rx="2.14" ry="2.53" fill="#dc3a6e"/><ellipse cx="84.1" cy="11.3" rx="1.61" ry="1.39" fill="#dc3a6e"/><ellipse cx="98.8" cy="15.3" rx="1.87" ry="1.54" fill="#d83068"/><ellipse cx="113.5" cy="83.5" rx="2.14" ry="2.15" fill="#d83068"/><ellipse cx="108.2" cy="88.9" rx="1.61" ry="1.78" fill="#d4245e"/><ellipse cx="118.9" cy="51.9" rx="1.61" ry="1.79" fill="#dc3a6e"/><ellipse cx="15.9" cy="48.7" rx="1.61" ry="1.87" fill="#d4245e"/><ellipse cx="22.6" cy="26.8" rx="1.61" ry="1.72" fill="#d83068"/><ellipse cx="55.2" cy="13.4" rx="1.34" ry="1.55" fill="#dc3a6e"/><ellipse cx="46.1" cy="15.3" rx="1.34" ry="1.56" fill="#cc2a62"/><ellipse cx="30.6" cy="67.5" rx="1.34" ry="1.22" fill="#dc3a6e"/><ellipse cx="43.4" cy="96.4" rx="1.61" ry="1.41" fill="#d4245e"/><ellipse cx="78.2" cy="99.0" rx="1.61" ry="1.85" fill="#d4245e"/><ellipse cx="22.6" cy="116.2" rx="1.61" ry="1.86" fill="#d4245e"/><ellipse cx="12.4" cy="103.6" rx="1.34" ry="1.14" fill="#dc3a6e"/><ellipse cx="71.5" cy="118.8" rx="1.61" ry="1.56" fill="#d83068"/><ellipse cx="62.2" cy="112.9" rx="1.34" ry="1.59" fill="#d4245e"/><ellipse cx="35.9" cy="111.6" rx="1.34" ry="1.14" fill="#d4245e"/><ellipse cx="98.8" cy="96.9" rx="1.87" ry="2.17" fill="#d83068"/><ellipse cx="112.2" cy="76.8" rx="1.34" ry="1.25" fill="#d83068"/><ellipse cx="97.0" cy="31.3" rx="1.34" ry="1.14" fill="#d4245e"/><ellipse cx="112.2" cy="51.4" rx="1.34" ry="1.34" fill="#d4245e"/><ellipse cx="27.9" cy="16.1" rx="1.34" ry="1.36" fill="#dc3a6e"/><ellipse cx="10.5" cy="43.4" rx="1.34" ry="1.30" fill="#d83068"/><ellipse cx="28.4" cy="42.8" rx="1.61" ry="1.41" fill="#dc3a6e"/><ellipse cx="66.9" cy="11.3" rx="0.62" ry="0.62" fill="#dc4a78"/><ellipse cx="108.3" cy="80.3" rx="0.89" ry="0.89" fill="#e05c84"/><ellipse cx="60.5" cy="8.5" rx="0.87" ry="0.87" fill="#dc4a78"/><ellipse cx="98.1" cy="98.7" rx="1.10" ry="1.10" fill="#e05c84"/><ellipse cx="88.7" cy="107.6" rx="0.97" ry="0.97" fill="#dc4a78"/><ellipse cx="91.1" cy="30.6" rx="1.05" ry="1.05" fill="#d83c70"/><ellipse cx="15.1" cy="78.7" rx="1.12" ry="1.12" fill="#dc4a78"/><ellipse cx="27.3" cy="97.6" rx="0.54" ry="0.54" fill="#dc4a78"/><ellipse cx="72.6" cy="109.4" rx="0.73" ry="0.73" fill="#dc4a78"/><ellipse cx="46.1" cy="107.6" rx="0.84" ry="0.84" fill="#dc4a78"/><ellipse cx="115.1" cy="72.2" rx="1.01" ry="1.01" fill="#e66e90"/><ellipse cx="32.1" cy="108.4" rx="0.87" ry="0.87" fill="#dc4a78"/><ellipse cx="22.3" cy="84.4" rx="1.10" ry="1.10" fill="#e66e90"/><ellipse cx="9.4" cy="60.1" rx="0.87" ry="0.87" fill="#e05c84"/><ellipse cx="41.8" cy="26.6" rx="1.03" ry="1.03" fill="#d83c70"/><ellipse cx="116.9" cy="74.0" rx="1.01" ry="1.01" fill="#d83c70"/><ellipse cx="111.7" cy="45.6" rx="0.89" ry="0.89" fill="#dc4a78"/><ellipse cx="107.5" cy="78.2" rx="1.00" ry="1.00" fill="#d83c70"/><ellipse cx="18.7" cy="25.6" rx="0.74" ry="0.74" fill="#e05c84"/><ellipse cx="17.6" cy="69.0" rx="1.10" ry="1.10" fill="#d83c70"/><ellipse cx="48.4" cy="23.4" rx="0.80" ry="0.80" fill="#e66e90"/><ellipse cx="16.7" cy="34.5" rx="0.93" ry="0.93" fill="#d83c70"/><ellipse cx="69.4" cy="9.3" rx="0.83" ry="0.83" fill="#dc4a78"/><ellipse cx="101.7" cy="42.1" rx="0.61" ry="0.61" fill="#dc4a78"/><ellipse cx="90.9" cy="111.6" rx="1.04" ry="1.04" fill="#e05c84"/><ellipse cx="84.7" cy="109.5" rx="0.86" ry="0.86" fill="#e66e90"/><ellipse cx="104.1" cy="88.4" rx="0.88" ry="0.88" fill="#d83c70"/><ellipse cx="9.4" cy="51.1" rx="0.55" ry="0.55" fill="#e66e90"/><ellipse cx="15.6" cy="49.7" rx="0.85" ry="0.85" fill="#dc4a78"/><ellipse cx="98.6" cy="27.0" rx="1.10" ry="1.10" fill="#dc4a78"/><ellipse cx="53.7" cy="8.6" rx="0.60" ry="0.60" fill="#e66e90"/><ellipse cx="13.6" cy="78.5" rx="0.91" ry="0.91" fill="#dc4a78"/><ellipse cx="45.2" cy="27.0" rx="0.68" ry="0.68" fill="#e66e90"/><ellipse cx="68.1" cy="115.0" rx="0.96" ry="0.96" fill="#e66e90"/><ellipse cx="92.4" cy="32.6" rx="0.89" ry="0.89" fill="#dc4a78"/><ellipse cx="42.7" cy="22.2" rx="0.58" ry="0.58" fill="#e05c84"/><ellipse cx="113.6" cy="75.0" rx="0.58" ry="0.58" fill="#dc4a78"/><ellipse cx="32.7" cy="102.6" rx="0.85" ry="0.85" fill="#dc4a78"/><ellipse cx="50.0" cy="21.7" rx="0.58" ry="0.58" fill="#d83c70"/><ellipse cx="119.0" cy="66.6" rx="0.88" ry="0.88" fill="#e66e90"/><ellipse cx="115.8" cy="58.7" rx="0.60" ry="0.60" fill="#d83c70"/><ellipse cx="40.8" cy="22.7" rx="0.61" ry="0.61" fill="#e05c84"/><ellipse cx="93.4" cy="89.7" rx="0.58" ry="0.58" fill="#dc4a78"/><ellipse cx="26.9" cy="100.9" rx="0.81" ry="0.81" fill="#e05c84"/><ellipse cx="28.5" cy="100.6" rx="0.67" ry="0.67" fill="#d83c70"/><ellipse cx="66.4" cy="11.3" rx="0.54" ry="0.54" fill="#d83c70"/><ellipse cx="98.8" cy="49.5" rx="0.60" ry="0.60" fill="#e66e90"/><ellipse cx="103.7" cy="79.7" rx="1.04" ry="1.04" fill="#e05c84"/><ellipse cx="29.3" cy="23.1" rx="0.61" ry="0.61" fill="#dc4a78"/><ellipse cx="79.0" cy="10.3" rx="1.00" ry="1.00" fill="#e66e90"/><ellipse cx="109.6" cy="40.7" rx="1.08" ry="1.08" fill="#dc4a78"/><ellipse cx="109.5" cy="72.6" rx="0.78" ry="0.78" fill="#d83c70"/><ellipse cx="17.4" cy="65.8" rx="1.03" ry="1.03" fill="#e66e90"/><ellipse cx="23.2" cy="82.3" rx="0.71" ry="0.71" fill="#e66e90"/><ellipse cx="23.1" cy="30.0" rx="0.79" ry="0.79" fill="#e05c84"/><ellipse cx="41.9" cy="101.8" rx="0.59" ry="0.59" fill="#d83c70"/><ellipse cx="20.3" cy="51.3" rx="0.95" ry="0.95" fill="#e05c84"/><ellipse cx="99.6" cy="49.2" rx="1.11" ry="1.11" fill="#e66e90"/><ellipse cx="73.6" cy="110.9" rx="0.73" ry="0.73" fill="#dc4a78"/><ellipse cx="40.6" cy="23.2" rx="0.67" ry="0.67" fill="#d83c70"/><ellipse cx="66.8" cy="9.7" rx="0.83" ry="0.83" fill="#e66e90"/><ellipse cx="52.5" cy="16.3" rx="0.85" ry="0.85" fill="#dc4a78"/><ellipse cx="70.8" cy="117.0" rx="0.72" ry="0.72" fill="#dc4a78"/><ellipse cx="88.3" cy="100.0" rx="0.59" ry="0.59" fill="#e66e90"/><ellipse cx="35.1" cy="25.4" rx="1.06" ry="1.06" fill="#e05c84"/><ellipse cx="17.8" cy="60.9" rx="1.09" ry="1.09" fill="#e05c84"/><ellipse cx="41.9" cy="107.4" rx="0.64" ry="0.64" fill="#e05c84"/><ellipse cx="25.0" cy="45.2" rx="0.94" ry="0.94" fill="#dc4a78"/><ellipse cx="53.3" cy="113.6" rx="0.98" ry="0.98" fill="#e66e90"/><ellipse cx="107.1" cy="33.3" rx="0.70" ry="0.70" fill="#e05c84"/></g>
<path d="M113.5 0.6C113.2 1.7 111.3 5.1 111.4 7.2C111.5 9.4 112.7 11.9 114.1 13.4C115.4 14.9 117.6 16.0 119.4 16.1C121.2 16.2 123.9 14.3 124.8 13.9" fill="none" stroke="#f0a890" stroke-width="1.3" filter="url(#b1)"/>
<g filter="url(#b1)"><ellipse cx="116.8" cy="5.9" rx="0.80" ry="0.80" fill="#e06080"/><ellipse cx="121.0" cy="3.2" rx="0.80" ry="0.80" fill="#e06080"/><ellipse cx="118.9" cy="10.7" rx="0.80" ry="0.80" fill="#e06080"/><ellipse cx="123.7" cy="8.6" rx="0.80" ry="0.80" fill="#e06080"/></g>
</g>
<polyline points="107.8,404.2 163.6,367.6 205.4,362.9 261.2,362.9 303.1,347.9 358.9,344.8 400.8,319.0 456.6,192.2 498.4,100.4" fill="none" stroke="#0000ff" stroke-width="2.8" stroke-linejoin="round"/>
<g stroke="#111" stroke-width="1.1" fill="none"><line x1="498.4" y1="89.3" x2="498.4" y2="100.4"/><line x1="494.6" y1="89.3" x2="502.2" y2="89.3"/><line x1="494.6" y1="100.4" x2="502.2" y2="100.4"/></g>
<g stroke="#111" stroke-width="1.1" fill="none"><line x1="400.8" y1="319.0" x2="400.8" y2="332.4"/><line x1="400.8" y1="319.0" x2="400.8" y2="319.0"/><line x1="400.8" y1="332.4" x2="400.8" y2="332.4"/></g>
<path d="M107.8 395.7 L116.3 412.7 L99.2 412.7 Z" fill="#0000ff"/>
<path d="M163.6 359.1 L172.1 376.1 L155.0 376.1 Z" fill="#0000ff"/>
<path d="M205.4 354.4 L214.0 371.4 L196.9 371.4 Z" fill="#0000ff"/>
<path d="M261.2 354.4 L269.8 371.4 L252.7 371.4 Z" fill="#0000ff"/>
<path d="M303.1 339.4 L311.7 356.4 L294.6 356.4 Z" fill="#0000ff"/>
<path d="M358.9 336.3 L367.5 353.3 L350.4 353.3 Z" fill="#0000ff"/>
<path d="M400.8 310.5 L409.3 327.5 L392.2 327.5 Z" fill="#0000ff"/>
<path d="M456.6 183.7 L465.1 200.7 L448.0 200.7 Z" fill="#0000ff"/>
<path d="M498.4 91.9 L507.0 108.9 L489.9 108.9 Z" fill="#0000ff"/>
<polyline points="107.8,379.9 163.6,364.6 205.4,361.3 261.2,362.5 303.1,345.4 358.9,361.1 400.8,347.1 456.6,279.9 498.4,185.0" fill="none" stroke="#ff0000" stroke-width="2.8" stroke-linejoin="round"/>
<g stroke="#111" stroke-width="1.1" fill="none"><line x1="261.2" y1="351.4" x2="261.2" y2="362.5"/><line x1="257.2" y1="351.4" x2="265.2" y2="351.4"/><line x1="257.2" y1="362.5" x2="265.2" y2="362.5"/></g>
<rect x="99.4" y="371.5" width="16.8" height="16.8" fill="#ff0000"/>
<rect x="155.2" y="356.2" width="16.8" height="16.8" fill="#ff0000"/>
<rect x="197.0" y="352.9" width="16.8" height="16.8" fill="#ff0000"/>
<rect x="252.8" y="354.1" width="16.8" height="16.8" fill="#ff0000"/>
<rect x="294.7" y="337.0" width="16.8" height="16.8" fill="#ff0000"/>
<rect x="350.5" y="352.7" width="16.8" height="16.8" fill="#ff0000"/>
<rect x="392.4" y="338.7" width="16.8" height="16.8" fill="#ff0000"/>
<rect x="448.2" y="271.5" width="16.8" height="16.8" fill="#ff0000"/>
<rect x="490.0" y="176.6" width="16.8" height="16.8" fill="#ff0000"/>
<polyline points="107.8,401.9 163.6,376.3 205.4,374.4 261.2,370.2 303.1,362.7 358.9,353.7 400.8,339.5 456.6,265.8 498.4,97.4" fill="none" stroke="#ffffff" stroke-width="2.8" stroke-linejoin="round"/>
<g stroke="#111" stroke-width="1.1" fill="none"><line x1="498.4" y1="30.1" x2="498.4" y2="164.0"/><line x1="494.3" y1="30.1" x2="502.5" y2="30.1"/><line x1="494.3" y1="164.0" x2="502.5" y2="164.0"/></g>
<g stroke="#111" stroke-width="1.1" fill="none"><line x1="456.6" y1="241.0" x2="456.6" y2="265.8"/><line x1="452.6" y1="241.0" x2="460.6" y2="241.0"/><line x1="452.6" y1="265.8" x2="460.6" y2="265.8"/></g>
<g stroke="#111" stroke-width="1.1" fill="none"><line x1="303.1" y1="362.7" x2="303.1" y2="376.1"/><line x1="299.1" y1="362.7" x2="307.1" y2="362.7"/><line x1="299.1" y1="376.1" x2="307.1" y2="376.1"/></g>
<g stroke="#111" stroke-width="1.1" fill="none"><line x1="261.2" y1="370.2" x2="261.2" y2="378.5"/><line x1="258.2" y1="370.2" x2="264.2" y2="370.2"/><line x1="258.2" y1="378.5" x2="264.2" y2="378.5"/></g>
<rect x="101.0" y="395.2" width="13.5" height="13.5" fill="#fff"/>
<path d="M101.9 396.1 L113.6 407.7 M113.6 396.1 L101.9 407.7" stroke="#000" stroke-width="1.15" fill="none"/>
<rect x="156.8" y="369.6" width="13.5" height="13.5" fill="#fff"/>
<path d="M157.8 370.5 L169.4 382.1 M169.4 370.5 L157.8 382.1" stroke="#000" stroke-width="1.15" fill="none"/>
<rect x="198.7" y="367.6" width="13.5" height="13.5" fill="#fff"/>
<path d="M199.6 368.6 L211.2 380.2 M211.2 368.6 L199.6 380.2" stroke="#000" stroke-width="1.15" fill="none"/>
<rect x="254.5" y="363.4" width="13.5" height="13.5" fill="#fff"/>
<path d="M255.4 364.4 L267.0 376.0 M267.0 364.4 L255.4 376.0" stroke="#000" stroke-width="1.15" fill="none"/>
<rect x="296.4" y="356.0" width="13.5" height="13.5" fill="#fff"/>
<path d="M297.3 356.9 L308.9 368.5 M308.9 356.9 L297.3 368.5" stroke="#000" stroke-width="1.15" fill="none"/>
<rect x="352.2" y="346.9" width="13.5" height="13.5" fill="#fff"/>
<path d="M353.1 347.9 L364.7 359.5 M364.7 347.9 L353.1 359.5" stroke="#000" stroke-width="1.15" fill="none"/>
<rect x="394.0" y="332.7" width="13.5" height="13.5" fill="#fff"/>
<path d="M395.0 333.7 L406.6 345.3 M406.6 333.7 L395.0 345.3" stroke="#000" stroke-width="1.15" fill="none"/>
<rect x="449.8" y="259.1" width="13.5" height="13.5" fill="#fff"/>
<path d="M450.8 260.0 L462.4 271.6 M462.4 260.0 L450.8 271.6" stroke="#000" stroke-width="1.15" fill="none"/>
<rect x="491.7" y="90.7" width="13.5" height="13.5" fill="#fff"/>
<path d="M492.6 91.6 L504.3 103.2 M504.3 91.6 L492.6 103.2" stroke="#000" stroke-width="1.15" fill="none"/>
<polyline points="107.8,395.7 163.6,373.3 205.4,390.8 261.2,389.7 303.1,396.0 358.9,399.6 400.8,397.3 456.6,402.7 498.4,382.1 596.1,388.4 693.8,403.2" fill="none" stroke="#000000" stroke-width="2.8" stroke-linejoin="round"/>
<circle cx="107.3" cy="395.7" r="8.3" fill="#000"/>
<circle cx="163.1" cy="373.3" r="8.3" fill="#000"/>
<circle cx="204.9" cy="390.8" r="8.3" fill="#000"/>
<circle cx="260.7" cy="389.7" r="8.3" fill="#000"/>
<circle cx="302.6" cy="396.0" r="8.3" fill="#000"/>
<circle cx="358.4" cy="399.6" r="8.3" fill="#000"/>
<circle cx="400.3" cy="397.3" r="8.3" fill="#000"/>
<circle cx="456.1" cy="402.7" r="8.3" fill="#000"/>
<circle cx="497.9" cy="382.1" r="8.3" fill="#000"/>
<circle cx="595.6" cy="388.4" r="8.3" fill="#000"/>
<circle cx="693.3" cy="403.2" r="8.3" fill="#000"/>
<polyline points="107.8,399.0 163.6,382.2 205.4,387.5 261.2,395.5 303.1,389.3 358.9,399.6 400.8,401.6 456.6,398.5 498.4,385.8 596.1,392.8 693.8,408.1" fill="none" stroke="#ffffff" stroke-width="2.8" stroke-linejoin="round"/>
<g stroke="#111" stroke-width="1.1" fill="none"><line x1="498.4" y1="370.7" x2="498.4" y2="399.2"/><line x1="494.4" y1="370.7" x2="502.4" y2="370.7"/><line x1="494.4" y1="399.2" x2="502.4" y2="399.2"/></g>
<g stroke="#111" stroke-width="1.1" fill="none"><line x1="303.1" y1="380.4" x2="303.1" y2="389.3"/><line x1="299.1" y1="380.4" x2="307.1" y2="380.4"/><line x1="299.1" y1="389.3" x2="307.1" y2="389.3"/></g>
<g stroke="#111" stroke-width="1.1" fill="none"><line x1="358.9" y1="399.6" x2="358.9" y2="407.0"/><line x1="355.9" y1="399.6" x2="361.9" y2="399.6"/><line x1="355.9" y1="407.0" x2="361.9" y2="407.0"/></g>
<rect x="100.8" y="392.0" width="14.0" height="14.0" fill="#fff"/>
<path d="M102.0 399.0 L113.5 399.0 M107.8 393.3 L107.8 404.8" stroke="#000" stroke-width="1.2" fill="none"/>
<rect x="156.6" y="375.2" width="14.0" height="14.0" fill="#fff"/>
<path d="M157.8 382.2 L169.3 382.2 M163.6 376.5 L163.6 388.0" stroke="#000" stroke-width="1.2" fill="none"/>
<rect x="198.4" y="380.5" width="14.0" height="14.0" fill="#fff"/>
<path d="M199.7 387.5 L211.2 387.5 M205.4 381.8 L205.4 393.2" stroke="#000" stroke-width="1.2" fill="none"/>
<rect x="254.2" y="388.5" width="14.0" height="14.0" fill="#fff"/>
<path d="M255.5 395.5 L267.0 395.5 M261.2 389.7 L261.2 401.2" stroke="#000" stroke-width="1.2" fill="none"/>
<rect x="296.1" y="382.3" width="14.0" height="14.0" fill="#fff"/>
<path d="M297.4 389.3 L308.8 389.3 M303.1 383.6 L303.1 395.1" stroke="#000" stroke-width="1.2" fill="none"/>
<rect x="351.9" y="392.6" width="14.0" height="14.0" fill="#fff"/>
<path d="M353.2 399.6 L364.7 399.6 M358.9 393.9 L358.9 405.4" stroke="#000" stroke-width="1.2" fill="none"/>
<rect x="393.8" y="394.6" width="14.0" height="14.0" fill="#fff"/>
<path d="M395.0 401.6 L406.5 401.6 M400.8 395.9 L400.8 407.4" stroke="#000" stroke-width="1.2" fill="none"/>
<rect x="449.6" y="391.5" width="14.0" height="14.0" fill="#fff"/>
<path d="M450.8 398.5 L462.3 398.5 M456.6 392.7 L456.6 404.2" stroke="#000" stroke-width="1.2" fill="none"/>
<rect x="491.4" y="378.8" width="14.0" height="14.0" fill="#fff"/>
<path d="M492.7 385.8 L504.2 385.8 M498.4 380.0 L498.4 391.5" stroke="#000" stroke-width="1.2" fill="none"/>
<rect x="589.1" y="385.8" width="14.0" height="14.0" fill="#fff"/>
<path d="M590.4 392.8 L601.9 392.8 M596.1 387.1 L596.1 398.5" stroke="#000" stroke-width="1.2" fill="none"/>
<rect x="686.8" y="401.1" width="14.0" height="14.0" fill="#fff"/>
<path d="M688.1 408.1 L699.5 408.1 M693.8 402.3 L693.8 413.8" stroke="#000" stroke-width="1.2" fill="none"/>
<g stroke="#2a2a2a" stroke-width="0.75" fill="none">
<line x1="155.5" y1="337.5" x2="132.5" y2="383.7"/>
<path d="M132.2 380.2 L132.5 383.7 L135.2 381.6"/>
<line x1="320.5" y1="305.5" x2="308" y2="342"/>
<line x1="544" y1="100" x2="507.3" y2="100"/>
<path d="M511 98.2 L507.3 100 L511 101.8"/>
<line x1="538.5" y1="352" x2="506.1" y2="383"/>
</g>
<line x1="118.1" y1="34.6" x2="153.8" y2="34.6" stroke="#0000ff" stroke-width="1.5"/>
<path d="M135.7 27.3 L142.9 41.1 L128.5 41.1 Z" fill="#0000ff"/>
<text x="157.8" y="42.8" class="lg">Cells+MION</text>
<line x1="118.1" y1="63.4" x2="153.8" y2="63.4" stroke="#ff0000" stroke-width="1.5"/>
<rect x="129.1" y="57.1" width="12.6" height="12.6" fill="#ff0000"/>
<text x="157.8" y="71.5" class="lg" style="letter-spacing:-0.26px">Alginate+MION</text>
<line x1="118.1" y1="94.2" x2="153.8" y2="94.2" stroke="#ffffff" stroke-width="1.5"/>
<rect x="129.2" y="87.4" width="13.6" height="13.6" fill="#fff"/>
<path d="M130.2 88.4 L141.8 100.0 M141.8 88.4 L130.2 100.0" stroke="#000" stroke-width="1.15" fill="none"/>
<text x="157.8" y="102.4" class="lg">Control</text>
<line x1="118.1" y1="123.4" x2="153.8" y2="123.4" stroke="#000000" stroke-width="1.5"/>
<circle cx="134.8" cy="123.4" r="6.0" fill="#000"/>
<text x="157.8" y="131.7" class="lg">Cells+MION+TC</text>
<line x1="118.1" y1="154.5" x2="153.8" y2="154.5" stroke="#ffffff" stroke-width="1.5"/>
<rect x="129.2" y="147.7" width="13.6" height="13.6" fill="#fff"/>
<path d="M130.4 154.5 L141.6 154.5 M136.0 148.9 L136.0 160.1" stroke="#000" stroke-width="1.2" fill="none"/>
<text x="157.8" y="162.5" class="lg">Control+TC</text>
</svg>
</body></html>
